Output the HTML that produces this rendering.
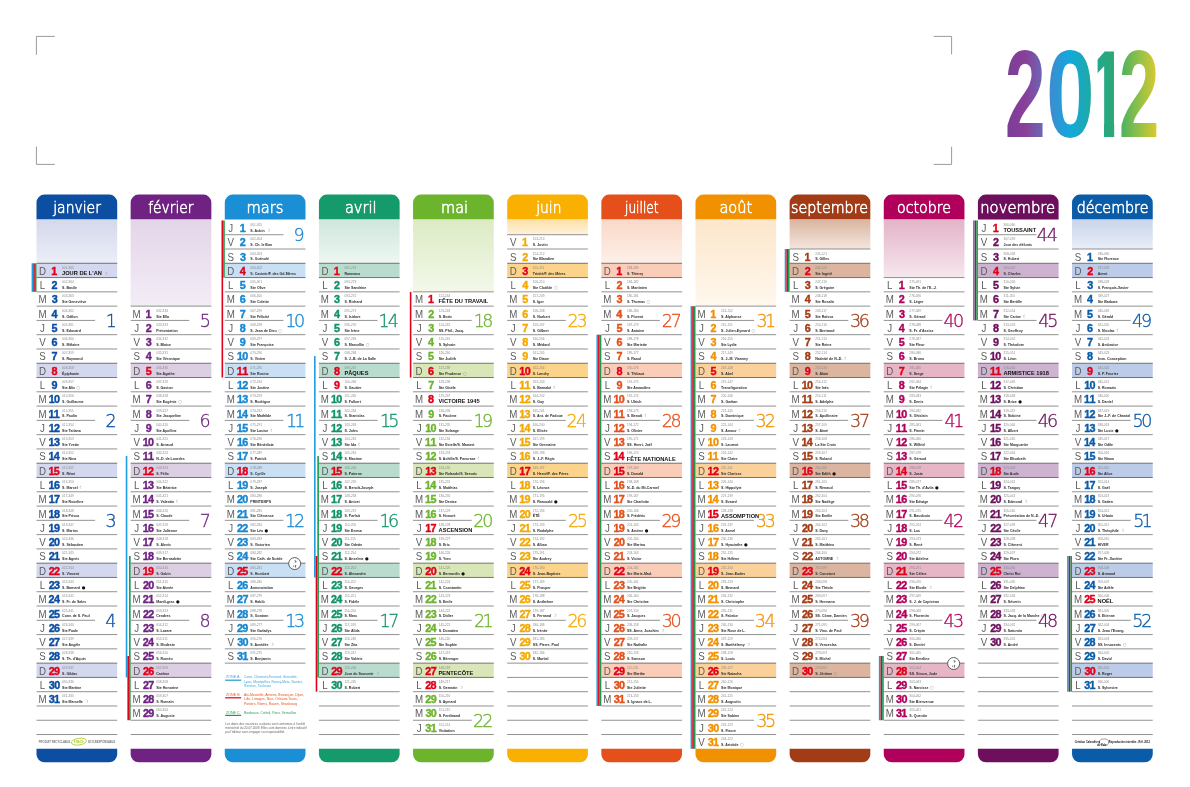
<!DOCTYPE html>
<html lang="fr">
<head>
<meta charset="utf-8">
<title>Calendrier 2012</title>
<style>
html,body{margin:0;padding:0;background:#fff;}
svg{display:block;will-change:transform;}
text{font-family:"Liberation Sans",sans-serif;}
.wd{font-size:11.6px;fill:#5c5c5c;text-anchor:middle;}
.dn{font-size:11.6px;font-weight:bold;stroke-width:.42px;}
.doy{font-size:3.2px;fill:#8c8c8c;}
.st{font-size:3.55px;font-weight:bold;fill:#2e2e2e;}
.bg{font-size:5.7px;font-weight:bold;fill:#111;}
.wk{font-family:"DejaVu Sans Light","DejaVu Sans","Liberation Sans",sans-serif;font-weight:200;font-size:17.5px;stroke-width:.3px;}
.mh{font-family:"DejaVu Sans Light","DejaVu Sans","Liberation Sans",sans-serif;font-weight:200;font-size:16.1px;fill:#fff;stroke:#fff;stroke-width:.6px;}
.mn{font-family:"DejaVu Sans",sans-serif;font-weight:normal;}
.ln{stroke:#6e6e6e;stroke-width:.75;}
.ls{stroke:#5e5e5e;stroke-width:.85;}
.lg{font-size:3.4px;}
</style>
</head>
<body>
<svg width="1190" height="787" viewBox="0 0 1190 787">
<defs>
<linearGradient id="yg" x1="1007" x2="1157" y1="0" y2="0" gradientUnits="userSpaceOnUse"><stop offset="0" stop-color="#7a3e98"/><stop offset=".12" stop-color="#8a3f98"/><stop offset=".233" stop-color="#6c66b4"/><stop offset=".287" stop-color="#3f8bd0"/><stop offset=".42" stop-color="#12a9dc"/><stop offset=".553" stop-color="#1ea9a6"/><stop offset=".607" stop-color="#22a88c"/><stop offset=".713" stop-color="#2ea874"/><stop offset=".76" stop-color="#4bb062"/><stop offset=".873" stop-color="#8dc04a"/><stop offset="1" stop-color="#dcc930"/></linearGradient>
<linearGradient id="g0" x1="0" x2="0" y1="0" y2="1"><stop offset="0" stop-color="#d3d8ec"/><stop offset="1" stop-color="#eceef7"/></linearGradient>
<linearGradient id="g1" x1="0" x2="0" y1="0" y2="1"><stop offset="0" stop-color="#e3d5e8"/><stop offset="1" stop-color="#f3edf6"/></linearGradient>
<linearGradient id="g2" x1="0" x2="0" y1="0" y2="1"><stop offset="0" stop-color="#cfe3f5"/><stop offset="1" stop-color="#eef6fc"/></linearGradient>
<linearGradient id="g3" x1="0" x2="0" y1="0" y2="1"><stop offset="0" stop-color="#cfe7dd"/><stop offset="1" stop-color="#eef7f3"/></linearGradient>
<linearGradient id="g4" x1="0" x2="0" y1="0" y2="1"><stop offset="0" stop-color="#dcebc4"/><stop offset="1" stop-color="#f3f8e9"/></linearGradient>
<linearGradient id="g5" x1="0" x2="0" y1="0" y2="1"><stop offset="0" stop-color="#fde0a8"/><stop offset="1" stop-color="#fef3dc"/></linearGradient>
<linearGradient id="g6" x1="0" x2="0" y1="0" y2="1"><stop offset="0" stop-color="#fad9c8"/><stop offset="1" stop-color="#fdf0e9"/></linearGradient>
<linearGradient id="g7" x1="0" x2="0" y1="0" y2="1"><stop offset="0" stop-color="#fce6cb"/><stop offset="1" stop-color="#fff8ee"/></linearGradient>
<linearGradient id="g8" x1="0" x2="0" y1="0" y2="1"><stop offset="0" stop-color="#dab5a0"/><stop offset="1" stop-color="#f4e6de"/></linearGradient>
<linearGradient id="g9" x1="0" x2="0" y1="0" y2="1"><stop offset="0" stop-color="#e3b4c8"/><stop offset="1" stop-color="#f6e7ee"/></linearGradient>
<linearGradient id="g10" x1="0" x2="0" y1="0" y2="1"><stop offset="0" stop-color="#d6c0d8"/><stop offset="1" stop-color="#f0e8f1"/></linearGradient>
<linearGradient id="g11" x1="0" x2="0" y1="0" y2="1"><stop offset="0" stop-color="#c9d5ec"/><stop offset="1" stop-color="#e9eef8"/></linearGradient>
</defs>
<rect width="1190" height="787" fill="#fff"/>
<g fill="none" stroke="#9a9a9a" stroke-width="1"><path d="M54.8 36.4H36.4V54.8"/><path d="M36.4 146.6V164.4H54.8"/><path d="M933.7 36.4H951.6V54.4"/><path d="M951.6 146.8V164.4H933.7"/></g>
<clipPath id="c1"><rect x="1097.6" y="40" width="16.6" height="83.4"/><rect x="1104" y="40" width="10.2" height="98"/></clipPath>
<g id="year" fill="url(#yg)" style="font-weight:bold"><text x="1004.98" y="137.3" textLength="40.43" lengthAdjust="spacingAndGlyphs" style="font-size:124.64px">2</text><text x="1046.27" y="137.3" textLength="48.18" lengthAdjust="spacingAndGlyphs" style="font-size:124.64px">0</text><text x="1118.89" y="137.3" textLength="40.20" lengthAdjust="spacingAndGlyphs" style="font-size:124.64px">2</text><text clip-path="url(#c1)" x="1087.53" y="137.3" textLength="39.72" lengthAdjust="spacingAndGlyphs" style="font-size:124.64px">1</text></g>
<g id="m1" transform="translate(36.50 0)">
<path d="M0 219.6V202.6a8 8 0 0 1 8 -8H72.7a8 8 0 0 1 8 8V219.6Z" fill="#0b4ea2"/>
<text class="mh" x="16.75" y="212.8" textLength="47.66" lengthAdjust="spacingAndGlyphs">janvier</text>
<rect x="0" y="219.6" width="80.7" height="43.69" fill="url(#g0)"/>
<path d="M0 748.8H80.7V754.3a8 8 0 0 1 -8 8H8a8 8 0 0 1 -8 -8Z" fill="#0b4ea2"/>
<rect x="0" y="263.29" width="80.7" height="14.28" fill="#d4d8ee"/>
<rect x="0" y="363.25" width="80.7" height="14.28" fill="#d4d8ee"/>
<rect x="0" y="463.21" width="80.7" height="14.28" fill="#d4d8ee"/>
<rect x="0" y="563.17" width="80.7" height="14.28" fill="#d4d8ee"/>
<rect x="0" y="663.13" width="80.7" height="14.28" fill="#d4d8ee"/>
<line class="ls" x1="0" x2="80.7" y1="263.29" y2="263.29"/>
<line class="ls" x1="0" x2="80.7" y1="277.57" y2="277.57"/>
<line class="ln" x1="0" x2="80.7" y1="291.85" y2="291.85"/>
<line class="ln" x1="0" x2="80.7" y1="306.13" y2="306.13"/>
<line class="ln" x1="0" x2="58.6" y1="320.41" y2="320.41"/>
<line class="ln" x1="0" x2="80.7" y1="334.69" y2="334.69"/>
<line class="ln" x1="0" x2="80.7" y1="348.97" y2="348.97"/>
<line class="ls" x1="0" x2="80.7" y1="363.25" y2="363.25"/>
<line class="ls" x1="0" x2="80.7" y1="377.53" y2="377.53"/>
<line class="ln" x1="0" x2="80.7" y1="391.81" y2="391.81"/>
<line class="ln" x1="0" x2="80.7" y1="406.09" y2="406.09"/>
<line class="ln" x1="0" x2="58.6" y1="420.37" y2="420.37"/>
<line class="ln" x1="0" x2="80.7" y1="434.65" y2="434.65"/>
<line class="ln" x1="0" x2="80.7" y1="448.93" y2="448.93"/>
<line class="ls" x1="0" x2="80.7" y1="463.21" y2="463.21"/>
<line class="ls" x1="0" x2="80.7" y1="477.49" y2="477.49"/>
<line class="ln" x1="0" x2="80.7" y1="491.77" y2="491.77"/>
<line class="ln" x1="0" x2="80.7" y1="506.05" y2="506.05"/>
<line class="ln" x1="0" x2="58.6" y1="520.33" y2="520.33"/>
<line class="ln" x1="0" x2="80.7" y1="534.61" y2="534.61"/>
<line class="ln" x1="0" x2="80.7" y1="548.89" y2="548.89"/>
<line class="ls" x1="0" x2="80.7" y1="563.17" y2="563.17"/>
<line class="ls" x1="0" x2="80.7" y1="577.45" y2="577.45"/>
<line class="ln" x1="0" x2="80.7" y1="591.73" y2="591.73"/>
<line class="ln" x1="0" x2="80.7" y1="606.01" y2="606.01"/>
<line class="ln" x1="0" x2="58.6" y1="620.29" y2="620.29"/>
<line class="ln" x1="0" x2="80.7" y1="634.57" y2="634.57"/>
<line class="ln" x1="0" x2="80.7" y1="648.85" y2="648.85"/>
<line class="ls" x1="0" x2="80.7" y1="663.13" y2="663.13"/>
<line class="ls" x1="0" x2="80.7" y1="677.41" y2="677.41"/>
<line class="ln" x1="0" x2="80.7" y1="691.69" y2="691.69"/>
<line class="ln" x1="0" x2="80.7" y1="705.97" y2="705.97"/>
<line class="ln" x1="0" x2="80.7" y1="720.25" y2="720.25"/>
<line class="ln" x1="0" x2="80.7" y1="734.53" y2="734.53"/>
<text class="wd" transform="translate(6 274.79) scale(.84 1)">D</text><text class="dn" transform="translate(18.05 274.79) scale(0.93 1)" x="-3.43" fill="#e2001a" stroke="#e2001a">1</text><text class="doy" x="25.6" y="268.79">001-365</text><text class="bg" x="25.5" y="274.89">JOUR DE L'AN<tspan class="mn" dx="1.6" fill="#8a8a8a" font-size="4.4">☽</tspan></text>
<text class="wd" transform="translate(6 289.07) scale(.84 1)">L</text><text class="dn" transform="translate(18.05 289.07) scale(0.93 1)" x="-3.19" fill="#0b4ea2" stroke="#0b4ea2">2</text><text class="doy" x="25.6" y="283.07">002-364</text><text class="st" x="25.6" y="288.97">S. Basile</text>
<text class="wd" transform="translate(6 303.35) scale(.84 1)">M</text><text class="dn" transform="translate(18.05 303.35) scale(0.93 1)" x="-3.15" fill="#0b4ea2" stroke="#0b4ea2">3</text><text class="doy" x="25.6" y="297.35">003-363</text><text class="st" x="25.6" y="303.25">Ste Geneviève</text>
<text class="wd" transform="translate(6 317.63) scale(.84 1)">M</text><text class="dn" transform="translate(18.05 317.63) scale(0.93 1)" x="-3.28" fill="#0b4ea2" stroke="#0b4ea2">4</text><text class="doy" x="25.6" y="311.63">004-362</text><text class="st" x="25.6" y="317.53">S. Odilon</text>
<text class="wk" x="69.31" y="326.81" fill="#0b4ea2" stroke="#0b4ea2">1</text>
<text class="wd" transform="translate(6 331.91) scale(.84 1)">J</text><text class="dn" transform="translate(18.05 331.91) scale(0.93 1)" x="-3.24" fill="#0b4ea2" stroke="#0b4ea2">5</text><text class="doy" x="25.6" y="325.91">005-361</text><text class="st" x="25.6" y="331.81">S. Edouard</text>
<text class="wd" transform="translate(6 346.19) scale(.84 1)">V</text><text class="dn" transform="translate(18.05 346.19) scale(0.93 1)" x="-3.23" fill="#0b4ea2" stroke="#0b4ea2">6</text><text class="doy" x="25.6" y="340.19">006-360</text><text class="st" x="25.6" y="346.09">S. Mélaine</text>
<text class="wd" transform="translate(6 360.47) scale(.84 1)">S</text><text class="dn" transform="translate(18.05 360.47) scale(0.93 1)" x="-3.22" fill="#0b4ea2" stroke="#0b4ea2">7</text><text class="doy" x="25.6" y="354.47">007-359</text><text class="st" x="25.6" y="360.37">S. Raymond</text>
<text class="wd" transform="translate(6 374.75) scale(.84 1)">D</text><text class="dn" transform="translate(18.05 374.75) scale(0.93 1)" x="-3.23" fill="#e2001a" stroke="#e2001a">8</text><text class="doy" x="25.6" y="368.75">008-358</text><text class="st" x="25.6" y="374.65">Épiphanie</text>
<text class="wd" transform="translate(6 389.03) scale(.84 1)">L</text><text class="dn" transform="translate(18.05 389.03) scale(0.93 1)" x="-3.21" fill="#0b4ea2" stroke="#0b4ea2">9</text><text class="doy" x="25.6" y="383.03">009-357</text><text class="st" x="25.6" y="388.93">Ste Alix<tspan class="mn" dx="1.6" fill="#8a8a8a" font-size="4.2">○</tspan></text>
<text class="wd" transform="translate(6 403.31) scale(.84 1)">M</text><text class="dn" transform="translate(17.9 403.31) scale(0.93 1)" x="-6.20 -0.50" fill="#0b4ea2" stroke="#0b4ea2">10</text><text class="doy" x="25.6" y="397.31">010-356</text><text class="st" x="25.6" y="403.21">S. Guillaume</text>
<text class="wd" transform="translate(6 417.59) scale(.84 1)">M</text><text class="dn" transform="translate(17.9 417.59) scale(0.93 1)" x="-6.28 -0.58" fill="#0b4ea2" stroke="#0b4ea2">11</text><text class="doy" x="25.6" y="411.59">011-355</text><text class="st" x="25.6" y="417.49">S. Paulin</text>
<text class="wk" x="69.02" y="426.77" fill="#0b4ea2" stroke="#0b4ea2">2</text>
<text class="wd" transform="translate(6 431.87) scale(.84 1)">J</text><text class="dn" transform="translate(17.9 431.87) scale(0.93 1)" x="-6.21 -0.51" fill="#0b4ea2" stroke="#0b4ea2">12</text><text class="doy" x="25.6" y="425.87">012-354</text><text class="st" x="25.6" y="431.77">Ste Tatiana</text>
<text class="wd" transform="translate(6 446.15) scale(.84 1)">V</text><text class="dn" transform="translate(17.9 446.15) scale(0.93 1)" x="-6.23 -0.53" fill="#0b4ea2" stroke="#0b4ea2">13</text><text class="doy" x="25.6" y="440.15">013-353</text><text class="st" x="25.6" y="446.05">Ste Yvette</text>
<text class="wd" transform="translate(6 460.43) scale(.84 1)">S</text><text class="dn" transform="translate(17.9 460.43) scale(0.93 1)" x="-6.41 -0.71" fill="#0b4ea2" stroke="#0b4ea2">14</text><text class="doy" x="25.6" y="454.43">014-352</text><text class="st" x="25.6" y="460.33">Ste Nina</text>
<text class="wd" transform="translate(6 474.71) scale(.84 1)">D</text><text class="dn" transform="translate(17.9 474.71) scale(0.93 1)" x="-6.28 -0.58" fill="#e2001a" stroke="#e2001a">15</text><text class="doy" x="25.6" y="468.71">015-351</text><text class="st" x="25.6" y="474.61">S. Rémi</text>
<text class="wd" transform="translate(6 488.99) scale(.84 1)">L</text><text class="dn" transform="translate(17.9 488.99) scale(0.93 1)" x="-6.23 -0.53" fill="#0b4ea2" stroke="#0b4ea2">16</text><text class="doy" x="25.6" y="482.99">016-350</text><text class="st" x="25.6" y="488.89">S. Marcel<tspan class="mn" dx="1.6" fill="#8a8a8a" font-size="4.4">☾</tspan></text>
<text class="wd" transform="translate(6 503.27) scale(.84 1)">M</text><text class="dn" transform="translate(17.9 503.27) scale(0.93 1)" x="-6.19 -0.49" fill="#0b4ea2" stroke="#0b4ea2">17</text><text class="doy" x="25.6" y="497.27">017-349</text><text class="st" x="25.6" y="503.17">Ste Roseline</text>
<text class="wd" transform="translate(6 517.55) scale(.84 1)">M</text><text class="dn" transform="translate(17.9 517.55) scale(0.93 1)" x="-6.26 -0.56" fill="#0b4ea2" stroke="#0b4ea2">18</text><text class="doy" x="25.6" y="511.55">018-348</text><text class="st" x="25.6" y="517.45">Ste Prisca</text>
<text class="wk" x="69.10" y="526.73" fill="#0b4ea2" stroke="#0b4ea2">3</text>
<text class="wd" transform="translate(6 531.83) scale(.84 1)">J</text><text class="dn" transform="translate(17.9 531.83) scale(0.93 1)" x="-6.23 -0.53" fill="#0b4ea2" stroke="#0b4ea2">19</text><text class="doy" x="25.6" y="525.83">019-347</text><text class="st" x="25.6" y="531.73">S. Marius</text>
<text class="wd" transform="translate(6 546.11) scale(.84 1)">V</text><text class="dn" transform="translate(17.9 546.11) scale(0.93 1)" x="-6.04 -0.34" fill="#0b4ea2" stroke="#0b4ea2">20</text><text class="doy" x="25.6" y="540.11">020-346</text><text class="st" x="25.6" y="546.01">S. Sébastien</text>
<text class="wd" transform="translate(6 560.39) scale(.84 1)">S</text><text class="dn" transform="translate(17.9 560.39) scale(0.93 1)" x="-6.12 -0.41" fill="#0b4ea2" stroke="#0b4ea2">21</text><text class="doy" x="25.6" y="554.39">021-345</text><text class="st" x="25.6" y="560.29">Ste Agnès</text>
<text class="wd" transform="translate(6 574.67) scale(.84 1)">D</text><text class="dn" transform="translate(17.9 574.67) scale(0.93 1)" x="-6.05 -0.34" fill="#e2001a" stroke="#e2001a">22</text><text class="doy" x="25.6" y="568.67">022-344</text><text class="st" x="25.6" y="574.57">S. Vincent</text>
<text class="wd" transform="translate(6 588.95) scale(.84 1)">L</text><text class="dn" transform="translate(17.9 588.95) scale(0.93 1)" x="-6.07 -0.37" fill="#0b4ea2" stroke="#0b4ea2">23</text><text class="doy" x="25.6" y="582.95">023-343</text><text class="st" x="25.6" y="588.85">S. Barnard<tspan class="mn" dx="1.6" fill="#111" font-size="4.2">●</tspan></text>
<text class="wd" transform="translate(6 603.23) scale(.84 1)">M</text><text class="dn" transform="translate(17.9 603.23) scale(0.93 1)" x="-6.25 -0.54" fill="#0b4ea2" stroke="#0b4ea2">24</text><text class="doy" x="25.6" y="597.23">024-342</text><text class="st" x="25.6" y="603.13">S. Fr. de Sales</text>
<text class="wd" transform="translate(6 617.51) scale(.84 1)">M</text><text class="dn" transform="translate(17.9 617.51) scale(0.93 1)" x="-6.12 -0.41" fill="#0b4ea2" stroke="#0b4ea2">25</text><text class="doy" x="25.6" y="611.51">025-341</text><text class="st" x="25.6" y="617.41">Conv. de S. Paul</text>
<text class="wk" x="68.67" y="626.69" fill="#0b4ea2" stroke="#0b4ea2">4</text>
<text class="wd" transform="translate(6 631.79) scale(.84 1)">J</text><text class="dn" transform="translate(17.9 631.79) scale(0.93 1)" x="-6.07 -0.37" fill="#0b4ea2" stroke="#0b4ea2">26</text><text class="doy" x="25.6" y="625.79">026-340</text><text class="st" x="25.6" y="631.69">Ste Paule</text>
<text class="wd" transform="translate(6 646.07) scale(.84 1)">V</text><text class="dn" transform="translate(17.9 646.07) scale(0.93 1)" x="-6.02 -0.32" fill="#0b4ea2" stroke="#0b4ea2">27</text><text class="doy" x="25.6" y="640.07">027-339</text><text class="st" x="25.6" y="645.97">Ste Angèle</text>
<text class="wd" transform="translate(6 660.35) scale(.84 1)">S</text><text class="dn" transform="translate(17.9 660.35) scale(0.93 1)" x="-6.10 -0.40" fill="#0b4ea2" stroke="#0b4ea2">28</text><text class="doy" x="25.6" y="654.35">028-338</text><text class="st" x="25.6" y="660.25">S. Th. d'Aquin</text>
<text class="wd" transform="translate(6 674.63) scale(.84 1)">D</text><text class="dn" transform="translate(17.9 674.63) scale(0.93 1)" x="-6.06 -0.36" fill="#e2001a" stroke="#e2001a">29</text><text class="doy" x="25.6" y="668.63">029-337</text><text class="st" x="25.6" y="674.53">S. Gildas</text>
<text class="wd" transform="translate(6 688.91) scale(.84 1)">L</text><text class="dn" transform="translate(17.9 688.91) scale(0.93 1)" x="-5.97 -0.27" fill="#0b4ea2" stroke="#0b4ea2">30</text><text class="doy" x="25.6" y="682.91">030-336</text><text class="st" x="25.6" y="688.81">Ste Martine</text>
<text class="wd" transform="translate(6 703.19) scale(.84 1)">M</text><text class="dn" transform="translate(17.9 703.19) scale(0.93 1)" x="-6.05 -0.35" fill="#0b4ea2" stroke="#0b4ea2">31</text><text class="doy" x="25.6" y="697.19">031-335</text><text class="st" x="25.6" y="703.09">Ste Marcelle<tspan class="mn" dx="1.6" fill="#8a8a8a" font-size="4.4">☽</tspan></text>
<rect x="-4.9" y="263.29" width="1.6" height="28.56" fill="#1e9ee0"/>
<rect x="-3.25" y="263.29" width="1.6" height="28.56" fill="#e2001a"/>
<rect x="-1.6" y="263.29" width="1.6" height="28.56" fill="#1a9a4c"/>
<text x="2.3" y="742.6" style="font-size:2.9px;font-weight:bold;fill:#777" textLength="31.5" lengthAdjust="spacingAndGlyphs">PRODUIT RECYCLABLE</text><ellipse cx="42.4" cy="741.7" rx="7.6" ry="3.3" fill="none" stroke="#b5cf3a" stroke-width=".9" transform="rotate(-8 42.4 741.7)"/><text x="37.6" y="743" style="font-size:3.6px;font-weight:bold;fill:#a6c72f" textLength="9.6" lengthAdjust="spacingAndGlyphs">ISO</text><text x="51.7" y="742.6" style="font-size:2.9px;font-weight:bold;fill:#777" textLength="27" lengthAdjust="spacingAndGlyphs">ECO-RESPONSABLE</text>
</g>
<g id="m2" transform="translate(130.64 0)">
<path d="M0 219.6V202.6a8 8 0 0 1 8 -8H72.7a8 8 0 0 1 8 8V219.6Z" fill="#6f2282"/>
<text class="mh" x="17.53" y="212.8" textLength="45.34" lengthAdjust="spacingAndGlyphs">février</text>
<rect x="0" y="219.6" width="80.7" height="86.53" fill="url(#g1)"/>
<path d="M0 748.8H80.7V754.3a8 8 0 0 1 -8 8H8a8 8 0 0 1 -8 -8Z" fill="#6f2282"/>
<rect x="0" y="363.25" width="80.7" height="14.28" fill="#dccfe4"/>
<rect x="0" y="463.21" width="80.7" height="14.28" fill="#dccfe4"/>
<rect x="0" y="563.17" width="80.7" height="14.28" fill="#dccfe4"/>
<rect x="0" y="663.13" width="80.7" height="14.28" fill="#dccfe4"/>
<line class="ln" x1="0" x2="80.7" y1="306.13" y2="306.13"/>
<line class="ln" x1="0" x2="58.6" y1="320.41" y2="320.41"/>
<line class="ln" x1="0" x2="80.7" y1="334.69" y2="334.69"/>
<line class="ln" x1="0" x2="80.7" y1="348.97" y2="348.97"/>
<line class="ls" x1="0" x2="80.7" y1="363.25" y2="363.25"/>
<line class="ls" x1="0" x2="80.7" y1="377.53" y2="377.53"/>
<line class="ln" x1="0" x2="80.7" y1="391.81" y2="391.81"/>
<line class="ln" x1="0" x2="80.7" y1="406.09" y2="406.09"/>
<line class="ln" x1="0" x2="58.6" y1="420.37" y2="420.37"/>
<line class="ln" x1="0" x2="80.7" y1="434.65" y2="434.65"/>
<line class="ln" x1="0" x2="80.7" y1="448.93" y2="448.93"/>
<line class="ls" x1="0" x2="80.7" y1="463.21" y2="463.21"/>
<line class="ls" x1="0" x2="80.7" y1="477.49" y2="477.49"/>
<line class="ln" x1="0" x2="80.7" y1="491.77" y2="491.77"/>
<line class="ln" x1="0" x2="80.7" y1="506.05" y2="506.05"/>
<line class="ln" x1="0" x2="58.6" y1="520.33" y2="520.33"/>
<line class="ln" x1="0" x2="80.7" y1="534.61" y2="534.61"/>
<line class="ln" x1="0" x2="80.7" y1="548.89" y2="548.89"/>
<line class="ls" x1="0" x2="80.7" y1="563.17" y2="563.17"/>
<line class="ls" x1="0" x2="80.7" y1="577.45" y2="577.45"/>
<line class="ln" x1="0" x2="80.7" y1="591.73" y2="591.73"/>
<line class="ln" x1="0" x2="80.7" y1="606.01" y2="606.01"/>
<line class="ln" x1="0" x2="58.6" y1="620.29" y2="620.29"/>
<line class="ln" x1="0" x2="80.7" y1="634.57" y2="634.57"/>
<line class="ln" x1="0" x2="80.7" y1="648.85" y2="648.85"/>
<line class="ls" x1="0" x2="80.7" y1="663.13" y2="663.13"/>
<line class="ls" x1="0" x2="80.7" y1="677.41" y2="677.41"/>
<line class="ln" x1="0" x2="80.7" y1="691.69" y2="691.69"/>
<line class="ln" x1="0" x2="80.7" y1="705.97" y2="705.97"/>
<line class="ln" x1="0" x2="80.7" y1="720.25" y2="720.25"/>
<line class="ln" x1="0" x2="80.7" y1="734.53" y2="734.53"/>
<text class="wd" transform="translate(6 317.63) scale(.84 1)">M</text><text class="dn" transform="translate(18.05 317.63) scale(0.93 1)" x="-3.43" fill="#6f2282" stroke="#6f2282">1</text><text class="doy" x="25.6" y="311.63">032-334</text><text class="st" x="25.6" y="317.53">Ste Ella</text>
<text class="wk" x="69.21" y="326.81" fill="#6f2282" stroke="#6f2282">5</text>
<text class="wd" transform="translate(6 331.91) scale(.84 1)">J</text><text class="dn" transform="translate(18.05 331.91) scale(0.93 1)" x="-3.19" fill="#6f2282" stroke="#6f2282">2</text><text class="doy" x="25.6" y="325.91">033-333</text><text class="st" x="25.6" y="331.81">Présentation</text>
<text class="wd" transform="translate(6 346.19) scale(.84 1)">V</text><text class="dn" transform="translate(18.05 346.19) scale(0.93 1)" x="-3.15" fill="#6f2282" stroke="#6f2282">3</text><text class="doy" x="25.6" y="340.19">034-332</text><text class="st" x="25.6" y="346.09">S. Blaise</text>
<text class="wd" transform="translate(6 360.47) scale(.84 1)">S</text><text class="dn" transform="translate(18.05 360.47) scale(0.93 1)" x="-3.28" fill="#6f2282" stroke="#6f2282">4</text><text class="doy" x="25.6" y="354.47">035-331</text><text class="st" x="25.6" y="360.37">Ste Véronique</text>
<text class="wd" transform="translate(6 374.75) scale(.84 1)">D</text><text class="dn" transform="translate(18.05 374.75) scale(0.93 1)" x="-3.24" fill="#e2001a" stroke="#e2001a">5</text><text class="doy" x="25.6" y="368.75">036-330</text><text class="st" x="25.6" y="374.65">Ste Agathe</text>
<text class="wd" transform="translate(6 389.03) scale(.84 1)">L</text><text class="dn" transform="translate(18.05 389.03) scale(0.93 1)" x="-3.23" fill="#6f2282" stroke="#6f2282">6</text><text class="doy" x="25.6" y="383.03">037-329</text><text class="st" x="25.6" y="388.93">S. Gaston</text>
<text class="wd" transform="translate(6 403.31) scale(.84 1)">M</text><text class="dn" transform="translate(18.05 403.31) scale(0.93 1)" x="-3.22" fill="#6f2282" stroke="#6f2282">7</text><text class="doy" x="25.6" y="397.31">038-328</text><text class="st" x="25.6" y="403.21">Ste Eugénie<tspan class="mn" dx="1.6" fill="#8a8a8a" font-size="4.2">○</tspan></text>
<text class="wd" transform="translate(6 417.59) scale(.84 1)">M</text><text class="dn" transform="translate(18.05 417.59) scale(0.93 1)" x="-3.23" fill="#6f2282" stroke="#6f2282">8</text><text class="doy" x="25.6" y="411.59">039-327</text><text class="st" x="25.6" y="417.49">Ste Jacqueline</text>
<text class="wk" x="68.79" y="426.77" fill="#6f2282" stroke="#6f2282">6</text>
<text class="wd" transform="translate(6 431.87) scale(.84 1)">J</text><text class="dn" transform="translate(18.05 431.87) scale(0.93 1)" x="-3.21" fill="#6f2282" stroke="#6f2282">9</text><text class="doy" x="25.6" y="425.87">040-326</text><text class="st" x="25.6" y="431.77">Ste Apolline</text>
<text class="wd" transform="translate(6 446.15) scale(.84 1)">V</text><text class="dn" transform="translate(17.9 446.15) scale(0.93 1)" x="-6.20 -0.50" fill="#6f2282" stroke="#6f2282">10</text><text class="doy" x="25.6" y="440.15">041-325</text><text class="st" x="25.6" y="446.05">S. Arnaud</text>
<text class="wd" transform="translate(6 460.43) scale(.84 1)">S</text><text class="dn" transform="translate(17.9 460.43) scale(0.93 1)" x="-6.28 -0.58" fill="#6f2282" stroke="#6f2282">11</text><text class="doy" x="25.6" y="454.43">042-324</text><text class="st" x="25.6" y="460.33">N.-D. de Lourdes</text>
<text class="wd" transform="translate(6 474.71) scale(.84 1)">D</text><text class="dn" transform="translate(17.9 474.71) scale(0.93 1)" x="-6.21 -0.51" fill="#e2001a" stroke="#e2001a">12</text><text class="doy" x="25.6" y="468.71">043-323</text><text class="st" x="25.6" y="474.61">S. Félix</text>
<text class="wd" transform="translate(6 488.99) scale(.84 1)">L</text><text class="dn" transform="translate(17.9 488.99) scale(0.93 1)" x="-6.23 -0.53" fill="#6f2282" stroke="#6f2282">13</text><text class="doy" x="25.6" y="482.99">044-322</text><text class="st" x="25.6" y="488.89">Ste Béatrice</text>
<text class="wd" transform="translate(6 503.27) scale(.84 1)">M</text><text class="dn" transform="translate(17.9 503.27) scale(0.93 1)" x="-6.41 -0.71" fill="#6f2282" stroke="#6f2282">14</text><text class="doy" x="25.6" y="497.27">045-321</text><text class="st" x="25.6" y="503.17">S. Valentin<tspan class="mn" dx="1.6" fill="#8a8a8a" font-size="4.4">☾</tspan></text>
<text class="wd" transform="translate(6 517.55) scale(.84 1)">M</text><text class="dn" transform="translate(17.9 517.55) scale(0.93 1)" x="-6.28 -0.58" fill="#6f2282" stroke="#6f2282">15</text><text class="doy" x="25.6" y="511.55">046-320</text><text class="st" x="25.6" y="517.45">S. Claude</text>
<text class="wk" x="69.21" y="526.73" fill="#6f2282" stroke="#6f2282">7</text>
<text class="wd" transform="translate(6 531.83) scale(.84 1)">J</text><text class="dn" transform="translate(17.9 531.83) scale(0.93 1)" x="-6.23 -0.53" fill="#6f2282" stroke="#6f2282">16</text><text class="doy" x="25.6" y="525.83">047-319</text><text class="st" x="25.6" y="531.73">Ste Julienne</text>
<text class="wd" transform="translate(6 546.11) scale(.84 1)">V</text><text class="dn" transform="translate(17.9 546.11) scale(0.93 1)" x="-6.19 -0.49" fill="#6f2282" stroke="#6f2282">17</text><text class="doy" x="25.6" y="540.11">048-318</text><text class="st" x="25.6" y="546.01">S. Alexis</text>
<text class="wd" transform="translate(6 560.39) scale(.84 1)">S</text><text class="dn" transform="translate(17.9 560.39) scale(0.93 1)" x="-6.26 -0.56" fill="#6f2282" stroke="#6f2282">18</text><text class="doy" x="25.6" y="554.39">049-317</text><text class="st" x="25.6" y="560.29">Ste Bernadette</text>
<text class="wd" transform="translate(6 574.67) scale(.84 1)">D</text><text class="dn" transform="translate(17.9 574.67) scale(0.93 1)" x="-6.23 -0.53" fill="#e2001a" stroke="#e2001a">19</text><text class="doy" x="25.6" y="568.67">050-316</text><text class="st" x="25.6" y="574.57">S. Gabin</text>
<text class="wd" transform="translate(6 588.95) scale(.84 1)">L</text><text class="dn" transform="translate(17.9 588.95) scale(0.93 1)" x="-6.04 -0.34" fill="#6f2282" stroke="#6f2282">20</text><text class="doy" x="25.6" y="582.95">051-315</text><text class="st" x="25.6" y="588.85">Ste Aimée</text>
<text class="wd" transform="translate(6 603.23) scale(.84 1)">M</text><text class="dn" transform="translate(17.9 603.23) scale(0.93 1)" x="-6.12 -0.41" fill="#6f2282" stroke="#6f2282">21</text><text class="doy" x="25.6" y="597.23">052-314</text><text class="st" x="25.6" y="603.13">Mardi-gras<tspan class="mn" dx="1.6" fill="#111" font-size="4.2">●</tspan></text>
<text class="wd" transform="translate(6 617.51) scale(.84 1)">M</text><text class="dn" transform="translate(17.9 617.51) scale(0.93 1)" x="-6.05 -0.34" fill="#6f2282" stroke="#6f2282">22</text><text class="doy" x="25.6" y="611.51">053-313</text><text class="st" x="25.6" y="617.41">Cendres</text>
<text class="wk" x="68.92" y="626.69" fill="#6f2282" stroke="#6f2282">8</text>
<text class="wd" transform="translate(6 631.79) scale(.84 1)">J</text><text class="dn" transform="translate(17.9 631.79) scale(0.93 1)" x="-6.07 -0.37" fill="#6f2282" stroke="#6f2282">23</text><text class="doy" x="25.6" y="625.79">054-312</text><text class="st" x="25.6" y="631.69">S. Lazare</text>
<text class="wd" transform="translate(6 646.07) scale(.84 1)">V</text><text class="dn" transform="translate(17.9 646.07) scale(0.93 1)" x="-6.25 -0.54" fill="#6f2282" stroke="#6f2282">24</text><text class="doy" x="25.6" y="640.07">055-311</text><text class="st" x="25.6" y="645.97">S. Modeste</text>
<text class="wd" transform="translate(6 660.35) scale(.84 1)">S</text><text class="dn" transform="translate(17.9 660.35) scale(0.93 1)" x="-6.12 -0.41" fill="#6f2282" stroke="#6f2282">25</text><text class="doy" x="25.6" y="654.35">056-310</text><text class="st" x="25.6" y="660.25">S. Roméo</text>
<text class="wd" transform="translate(6 674.63) scale(.84 1)">D</text><text class="dn" transform="translate(17.9 674.63) scale(0.93 1)" x="-6.07 -0.37" fill="#e2001a" stroke="#e2001a">26</text><text class="doy" x="25.6" y="668.63">057-309</text><text class="st" x="25.6" y="674.53">Carême</text>
<text class="wd" transform="translate(6 688.91) scale(.84 1)">L</text><text class="dn" transform="translate(17.9 688.91) scale(0.93 1)" x="-6.02 -0.32" fill="#6f2282" stroke="#6f2282">27</text><text class="doy" x="25.6" y="682.91">058-308</text><text class="st" x="25.6" y="688.81">Ste Honorine</text>
<text class="wd" transform="translate(6 703.19) scale(.84 1)">M</text><text class="dn" transform="translate(17.9 703.19) scale(0.93 1)" x="-6.10 -0.40" fill="#6f2282" stroke="#6f2282">28</text><text class="doy" x="25.6" y="697.19">059-307</text><text class="st" x="25.6" y="703.09">S. Romain</text>
<text class="wd" transform="translate(6 717.47) scale(.84 1)">M</text><text class="dn" transform="translate(17.9 717.47) scale(0.93 1)" x="-6.06 -0.36" fill="#6f2282" stroke="#6f2282">29</text><text class="doy" x="25.6" y="711.47">060-306</text><text class="st" x="25.6" y="717.37">S. Auguste</text>
<rect x="-4.9" y="456.07" width="1.6" height="221.34" fill="#1e9ee0"/>
<rect x="-1.6" y="556.03" width="1.6" height="164.22" fill="#1a9a4c"/>
<rect x="-3.25" y="655.99" width="1.6" height="64.26" fill="#e2001a"/>
</g>
<g id="m3" transform="translate(224.78 0)">
<path d="M0 219.6V202.6a8 8 0 0 1 8 -8H72.7a8 8 0 0 1 8 8V219.6Z" fill="#1b8fd6"/>
<text class="mh" x="21.66" y="212.8" textLength="36.91" lengthAdjust="spacingAndGlyphs">mars</text>
<path d="M0 748.8H80.7V754.3a8 8 0 0 1 -8 8H8a8 8 0 0 1 -8 -8Z" fill="#1b8fd6"/>
<rect x="0" y="263.29" width="80.7" height="14.28" fill="#c9dff3"/>
<rect x="0" y="363.25" width="80.7" height="14.28" fill="#c9dff3"/>
<rect x="0" y="463.21" width="80.7" height="14.28" fill="#c9dff3"/>
<rect x="0" y="563.17" width="80.7" height="14.28" fill="#c9dff3"/>
<line class="ln" x1="0" x2="58.6" y1="234.73" y2="234.73"/>
<line class="ln" x1="0" x2="80.7" y1="249.01" y2="249.01"/>
<line class="ls" x1="0" x2="80.7" y1="263.29" y2="263.29"/>
<line class="ls" x1="0" x2="80.7" y1="277.57" y2="277.57"/>
<line class="ln" x1="0" x2="80.7" y1="291.85" y2="291.85"/>
<line class="ln" x1="0" x2="80.7" y1="306.13" y2="306.13"/>
<line class="ln" x1="0" x2="58.6" y1="320.41" y2="320.41"/>
<line class="ln" x1="0" x2="80.7" y1="334.69" y2="334.69"/>
<line class="ln" x1="0" x2="80.7" y1="348.97" y2="348.97"/>
<line class="ls" x1="0" x2="80.7" y1="363.25" y2="363.25"/>
<line class="ls" x1="0" x2="80.7" y1="377.53" y2="377.53"/>
<line class="ln" x1="0" x2="80.7" y1="391.81" y2="391.81"/>
<line class="ln" x1="0" x2="80.7" y1="406.09" y2="406.09"/>
<line class="ln" x1="0" x2="58.6" y1="420.37" y2="420.37"/>
<line class="ln" x1="0" x2="80.7" y1="434.65" y2="434.65"/>
<line class="ln" x1="0" x2="80.7" y1="448.93" y2="448.93"/>
<line class="ls" x1="0" x2="80.7" y1="463.21" y2="463.21"/>
<line class="ls" x1="0" x2="80.7" y1="477.49" y2="477.49"/>
<line class="ln" x1="0" x2="80.7" y1="491.77" y2="491.77"/>
<line class="ln" x1="0" x2="80.7" y1="506.05" y2="506.05"/>
<line class="ln" x1="0" x2="58.6" y1="520.33" y2="520.33"/>
<line class="ln" x1="0" x2="80.7" y1="534.61" y2="534.61"/>
<line class="ln" x1="0" x2="80.7" y1="548.89" y2="548.89"/>
<line class="ls" x1="0" x2="80.7" y1="563.17" y2="563.17"/>
<line class="ls" x1="0" x2="80.7" y1="577.45" y2="577.45"/>
<line class="ln" x1="0" x2="80.7" y1="591.73" y2="591.73"/>
<line class="ln" x1="0" x2="80.7" y1="606.01" y2="606.01"/>
<line class="ln" x1="0" x2="58.6" y1="620.29" y2="620.29"/>
<line class="ln" x1="0" x2="80.7" y1="634.57" y2="634.57"/>
<line class="ln" x1="0" x2="80.7" y1="648.85" y2="648.85"/>
<line class="ln" x1="0" x2="80.7" y1="663.13" y2="663.13"/>
<text class="wd" transform="translate(6 231.95) scale(.84 1)">J</text><text class="dn" transform="translate(18.05 231.95) scale(0.93 1)" x="-3.43" fill="#1787d2" stroke="#1787d2">1</text><text class="doy" x="25.6" y="225.95">061-305</text><text class="st" x="25.6" y="231.85">S. Aubin<tspan class="mn" dx="1.6" fill="#8a8a8a" font-size="4.4">☽</tspan></text>
<text class="wk" x="68.79" y="241.13" fill="#1787d2" stroke="#1787d2">9</text>
<text class="wd" transform="translate(6 246.23) scale(.84 1)">V</text><text class="dn" transform="translate(18.05 246.23) scale(0.93 1)" x="-3.19" fill="#1787d2" stroke="#1787d2">2</text><text class="doy" x="25.6" y="240.23">062-304</text><text class="st" x="25.6" y="246.13">S. Ch. le Bon</text>
<text class="wd" transform="translate(6 260.51) scale(.84 1)">S</text><text class="dn" transform="translate(18.05 260.51) scale(0.93 1)" x="-3.15" fill="#1787d2" stroke="#1787d2">3</text><text class="doy" x="25.6" y="254.51">063-303</text><text class="st" x="25.6" y="260.41">S. Guénolé</text>
<text class="wd" transform="translate(6 274.79) scale(.84 1)">D</text><text class="dn" transform="translate(18.05 274.79) scale(0.93 1)" x="-3.28" fill="#e2001a" stroke="#e2001a">4</text><text class="doy" x="25.6" y="268.79">064-302</text><text class="st" x="25.6" y="274.69">S. Casimir/F. des Gd-Mères</text>
<text class="wd" transform="translate(6 289.07) scale(.84 1)">L</text><text class="dn" transform="translate(18.05 289.07) scale(0.93 1)" x="-3.24" fill="#1787d2" stroke="#1787d2">5</text><text class="doy" x="25.6" y="283.07">065-301</text><text class="st" x="25.6" y="288.97">Ste Olive</text>
<text class="wd" transform="translate(6 303.35) scale(.84 1)">M</text><text class="dn" transform="translate(18.05 303.35) scale(0.93 1)" x="-3.23" fill="#1787d2" stroke="#1787d2">6</text><text class="doy" x="25.6" y="297.35">066-300</text><text class="st" x="25.6" y="303.25">Ste Colette</text>
<text class="wd" transform="translate(6 317.63) scale(.84 1)">M</text><text class="dn" transform="translate(18.05 317.63) scale(0.93 1)" x="-3.22" fill="#1787d2" stroke="#1787d2">7</text><text class="doy" x="25.6" y="311.63">067-299</text><text class="st" x="25.6" y="317.53">Ste Félicité</text>
<text class="wk" x="60.51 69.14" y="326.81" fill="#1787d2" stroke="#1787d2">10</text>
<text class="wd" transform="translate(6 331.91) scale(.84 1)">J</text><text class="dn" transform="translate(18.05 331.91) scale(0.93 1)" x="-3.23" fill="#1787d2" stroke="#1787d2">8</text><text class="doy" x="25.6" y="325.91">068-298</text><text class="st" x="25.6" y="331.81">S. Jean de Dieu<tspan class="mn" dx="1.6" fill="#8a8a8a" font-size="4.2">○</tspan></text>
<text class="wd" transform="translate(6 346.19) scale(.84 1)">V</text><text class="dn" transform="translate(18.05 346.19) scale(0.93 1)" x="-3.21" fill="#1787d2" stroke="#1787d2">9</text><text class="doy" x="25.6" y="340.19">069-297</text><text class="st" x="25.6" y="346.09">Ste Françoise</text>
<text class="wd" transform="translate(6 360.47) scale(.84 1)">S</text><text class="dn" transform="translate(17.9 360.47) scale(0.93 1)" x="-6.20 -0.50" fill="#1787d2" stroke="#1787d2">10</text><text class="doy" x="25.6" y="354.47">070-296</text><text class="st" x="25.6" y="360.37">S. Vivien</text>
<text class="wd" transform="translate(6 374.75) scale(.84 1)">D</text><text class="dn" transform="translate(17.9 374.75) scale(0.93 1)" x="-6.28 -0.58" fill="#e2001a" stroke="#e2001a">11</text><text class="doy" x="25.6" y="368.75">071-295</text><text class="st" x="25.6" y="374.65">Ste Rosine</text>
<text class="wd" transform="translate(6 389.03) scale(.84 1)">L</text><text class="dn" transform="translate(17.9 389.03) scale(0.93 1)" x="-6.21 -0.51" fill="#1787d2" stroke="#1787d2">12</text><text class="doy" x="25.6" y="383.03">072-294</text><text class="st" x="25.6" y="388.93">Ste Justine</text>
<text class="wd" transform="translate(6 403.31) scale(.84 1)">M</text><text class="dn" transform="translate(17.9 403.31) scale(0.93 1)" x="-6.23 -0.53" fill="#1787d2" stroke="#1787d2">13</text><text class="doy" x="25.6" y="397.31">073-293</text><text class="st" x="25.6" y="403.21">S. Rodrigue</text>
<text class="wd" transform="translate(6 417.59) scale(.84 1)">M</text><text class="dn" transform="translate(17.9 417.59) scale(0.93 1)" x="-6.41 -0.71" fill="#1787d2" stroke="#1787d2">14</text><text class="doy" x="25.6" y="411.59">074-292</text><text class="st" x="25.6" y="417.49">Ste Mathilde</text>
<text class="wk" x="61.29 69.56" y="426.77" fill="#1787d2" stroke="#1787d2">11</text>
<text class="wd" transform="translate(6 431.87) scale(.84 1)">J</text><text class="dn" transform="translate(17.9 431.87) scale(0.93 1)" x="-6.28 -0.58" fill="#1787d2" stroke="#1787d2">15</text><text class="doy" x="25.6" y="425.87">075-291</text><text class="st" x="25.6" y="431.77">Ste Louise<tspan class="mn" dx="1.6" fill="#8a8a8a" font-size="4.4">☾</tspan></text>
<text class="wd" transform="translate(6 446.15) scale(.84 1)">V</text><text class="dn" transform="translate(17.9 446.15) scale(0.93 1)" x="-6.23 -0.53" fill="#1787d2" stroke="#1787d2">16</text><text class="doy" x="25.6" y="440.15">076-290</text><text class="st" x="25.6" y="446.05">Ste Bénédicte</text>
<text class="wd" transform="translate(6 460.43) scale(.84 1)">S</text><text class="dn" transform="translate(17.9 460.43) scale(0.93 1)" x="-6.19 -0.49" fill="#1787d2" stroke="#1787d2">17</text><text class="doy" x="25.6" y="454.43">077-289</text><text class="st" x="25.6" y="460.33">S. Patrick</text>
<text class="wd" transform="translate(6 474.71) scale(.84 1)">D</text><text class="dn" transform="translate(17.9 474.71) scale(0.93 1)" x="-6.26 -0.56" fill="#e2001a" stroke="#e2001a">18</text><text class="doy" x="25.6" y="468.71">078-288</text><text class="st" x="25.6" y="474.61">S. Cyrille</text>
<text class="wd" transform="translate(6 488.99) scale(.84 1)">L</text><text class="dn" transform="translate(17.9 488.99) scale(0.93 1)" x="-6.23 -0.53" fill="#1787d2" stroke="#1787d2">19</text><text class="doy" x="25.6" y="482.99">079-287</text><text class="st" x="25.6" y="488.89">S. Joseph</text>
<text class="wd" transform="translate(6 503.27) scale(.84 1)">M</text><text class="dn" transform="translate(17.9 503.27) scale(0.93 1)" x="-6.04 -0.34" fill="#1787d2" stroke="#1787d2">20</text><text class="doy" x="25.6" y="497.27">080-286</text><text class="st" x="25.6" y="503.17">PRINTEMPS</text>
<text class="wd" transform="translate(6 517.55) scale(.84 1)">M</text><text class="dn" transform="translate(17.9 517.55) scale(0.93 1)" x="-6.12 -0.41" fill="#1787d2" stroke="#1787d2">21</text><text class="doy" x="25.6" y="511.55">081-285</text><text class="st" x="25.6" y="517.45">Ste Clémence</text>
<text class="wk" x="60.29 69.27" y="526.73" fill="#1787d2" stroke="#1787d2">12</text>
<text class="wd" transform="translate(6 531.83) scale(.84 1)">J</text><text class="dn" transform="translate(17.9 531.83) scale(0.93 1)" x="-6.05 -0.34" fill="#1787d2" stroke="#1787d2">22</text><text class="doy" x="25.6" y="525.83">082-284</text><text class="st" x="25.6" y="531.73">Ste Léa<tspan class="mn" dx="1.6" fill="#111" font-size="4.2">●</tspan></text>
<text class="wd" transform="translate(6 546.11) scale(.84 1)">V</text><text class="dn" transform="translate(17.9 546.11) scale(0.93 1)" x="-6.07 -0.37" fill="#1787d2" stroke="#1787d2">23</text><text class="doy" x="25.6" y="540.11">083-283</text><text class="st" x="25.6" y="546.01">S. Victorien</text>
<text class="wd" transform="translate(6 560.39) scale(.84 1)">S</text><text class="dn" transform="translate(17.9 560.39) scale(0.93 1)" x="-6.25 -0.54" fill="#1787d2" stroke="#1787d2">24</text><text class="doy" x="25.6" y="554.39">084-282</text><text class="st" x="25.6" y="560.29">Ste Cath. de Suède</text>
<text class="wd" transform="translate(6 574.67) scale(.84 1)">D</text><text class="dn" transform="translate(17.9 574.67) scale(0.93 1)" x="-6.12 -0.41" fill="#e2001a" stroke="#e2001a">25</text><text class="doy" x="25.6" y="568.67">085-281</text><text class="st" x="25.6" y="574.57">S. Humbert</text>
<text class="wd" transform="translate(6 588.95) scale(.84 1)">L</text><text class="dn" transform="translate(17.9 588.95) scale(0.93 1)" x="-6.07 -0.37" fill="#1787d2" stroke="#1787d2">26</text><text class="doy" x="25.6" y="582.95">086-280</text><text class="st" x="25.6" y="588.85">Annonciation</text>
<text class="wd" transform="translate(6 603.23) scale(.84 1)">M</text><text class="dn" transform="translate(17.9 603.23) scale(0.93 1)" x="-6.02 -0.32" fill="#1787d2" stroke="#1787d2">27</text><text class="doy" x="25.6" y="597.23">087-279</text><text class="st" x="25.6" y="603.13">S. Habib</text>
<text class="wd" transform="translate(6 617.51) scale(.84 1)">M</text><text class="dn" transform="translate(17.9 617.51) scale(0.93 1)" x="-6.10 -0.40" fill="#1787d2" stroke="#1787d2">28</text><text class="doy" x="25.6" y="611.51">088-278</text><text class="st" x="25.6" y="617.41">S. Gontran</text>
<text class="wk" x="60.49 69.35" y="626.69" fill="#1787d2" stroke="#1787d2">13</text>
<text class="wd" transform="translate(6 631.79) scale(.84 1)">J</text><text class="dn" transform="translate(17.9 631.79) scale(0.93 1)" x="-6.06 -0.36" fill="#1787d2" stroke="#1787d2">29</text><text class="doy" x="25.6" y="625.79">089-277</text><text class="st" x="25.6" y="631.69">Ste Gwladys</text>
<text class="wd" transform="translate(6 646.07) scale(.84 1)">V</text><text class="dn" transform="translate(17.9 646.07) scale(0.93 1)" x="-5.97 -0.27" fill="#1787d2" stroke="#1787d2">30</text><text class="doy" x="25.6" y="640.07">090-276</text><text class="st" x="25.6" y="645.97">S. Amédée<tspan class="mn" dx="1.6" fill="#8a8a8a" font-size="4.4">☽</tspan></text>
<text class="wd" transform="translate(6 660.35) scale(.84 1)">S</text><text class="dn" transform="translate(17.9 660.35) scale(0.93 1)" x="-6.05 -0.35" fill="#1787d2" stroke="#1787d2">31</text><text class="doy" x="25.6" y="654.35">091-275</text><text class="st" x="25.6" y="660.25">S. Benjamin</text>
<rect x="-1.6" y="220.45" width="1.6" height="57.12" fill="#1a9a4c"/>
<rect x="-3.25" y="220.45" width="1.6" height="157.08" fill="#e2001a"/>
<g transform="translate(69.9 563.57)"><circle r="6" fill="#fff" stroke="#3a3a3a" stroke-width=".8"/><path d="M.3 -3.6L.9 -1.2L1.7 -2.6" fill="none" stroke="#444" stroke-width=".7"/><path d="M-1.6 2.6h1.2M.9 1.4v2.6" stroke="#444" stroke-width=".8"/></g>
<text class="lg" x="1.2" y="678.4" fill="#49a8de" textLength="13.6" lengthAdjust="spacingAndGlyphs">ZONE A</text><rect x=".4" y="679.6" width="16" height="1.2" fill="#1e9ad6"/><text class="lg" x="19.3" y="678.40" fill="#49a8de">Caen, Clermont-Ferrand, Grenoble,</text><text class="lg" x="19.3" y="682.75" fill="#49a8de">Lyon, Montpellier, Nancy-Metz, Nantes,</text><text class="lg" x="19.3" y="687.10" fill="#49a8de">Rennes, Toulouse</text>
<text class="lg" x="1.2" y="696.0" fill="#e9541f" textLength="13.6" lengthAdjust="spacingAndGlyphs">ZONE B</text><rect x=".4" y="697.2" width="16" height="1.2" fill="#e2001a"/><text class="lg" x="19.3" y="696.00" fill="#e9541f">Aix-Marseille, Amiens, Besançon, Dijon,</text><text class="lg" x="19.3" y="700.35" fill="#e9541f">Lille, Limoges, Nice, Orléans-Tours,</text><text class="lg" x="19.3" y="704.70" fill="#e9541f">Poitiers, Reims, Rouen, Strasbourg</text>
<text class="lg" x="1.2" y="713.6" fill="#2a9f56" textLength="13.6" lengthAdjust="spacingAndGlyphs">ZONE C</text><rect x=".4" y="714.8" width="16" height="1.2" fill="#1a9a4c"/><text class="lg" x="19.3" y="713.60" fill="#2a9f56">Bordeaux, Créteil, Paris, Versailles</text>
<text x=".6" y="725.1" style="font-size:3.05px;fill:#666">Les dates des vacances scolaires sont conformes à l'arrêté</text><text x=".6" y="729.1" style="font-size:3.05px;fill:#666">ministériel du 20.07.2009. Elles sont données à titre indicatif</text><text x=".6" y="733.1" style="font-size:3.05px;fill:#666">par l'éditeur sans engager sa responsabilité.</text>
</g>
<g id="m4" transform="translate(318.92 0)">
<path d="M0 219.6V202.6a8 8 0 0 1 8 -8H72.7a8 8 0 0 1 8 8V219.6Z" fill="#159a6b"/>
<text class="mh" x="25.98" y="212.8" textLength="31.75" lengthAdjust="spacingAndGlyphs">avril</text>
<rect x="0" y="219.6" width="80.7" height="43.69" fill="url(#g3)"/>
<path d="M0 748.8H80.7V754.3a8 8 0 0 1 -8 8H8a8 8 0 0 1 -8 -8Z" fill="#159a6b"/>
<rect x="0" y="263.29" width="80.7" height="14.28" fill="#b9dccf"/>
<rect x="0" y="363.25" width="80.7" height="14.28" fill="#b9dccf"/>
<rect x="0" y="463.21" width="80.7" height="14.28" fill="#b9dccf"/>
<rect x="0" y="563.17" width="80.7" height="14.28" fill="#b9dccf"/>
<rect x="0" y="663.13" width="80.7" height="14.28" fill="#b9dccf"/>
<line class="ls" x1="0" x2="80.7" y1="263.29" y2="263.29"/>
<line class="ls" x1="0" x2="80.7" y1="277.57" y2="277.57"/>
<line class="ln" x1="0" x2="80.7" y1="291.85" y2="291.85"/>
<line class="ln" x1="0" x2="80.7" y1="306.13" y2="306.13"/>
<line class="ln" x1="0" x2="58.6" y1="320.41" y2="320.41"/>
<line class="ln" x1="0" x2="80.7" y1="334.69" y2="334.69"/>
<line class="ln" x1="0" x2="80.7" y1="348.97" y2="348.97"/>
<line class="ls" x1="0" x2="80.7" y1="363.25" y2="363.25"/>
<line class="ls" x1="0" x2="80.7" y1="377.53" y2="377.53"/>
<line class="ln" x1="0" x2="80.7" y1="391.81" y2="391.81"/>
<line class="ln" x1="0" x2="80.7" y1="406.09" y2="406.09"/>
<line class="ln" x1="0" x2="58.6" y1="420.37" y2="420.37"/>
<line class="ln" x1="0" x2="80.7" y1="434.65" y2="434.65"/>
<line class="ln" x1="0" x2="80.7" y1="448.93" y2="448.93"/>
<line class="ls" x1="0" x2="80.7" y1="463.21" y2="463.21"/>
<line class="ls" x1="0" x2="80.7" y1="477.49" y2="477.49"/>
<line class="ln" x1="0" x2="80.7" y1="491.77" y2="491.77"/>
<line class="ln" x1="0" x2="80.7" y1="506.05" y2="506.05"/>
<line class="ln" x1="0" x2="58.6" y1="520.33" y2="520.33"/>
<line class="ln" x1="0" x2="80.7" y1="534.61" y2="534.61"/>
<line class="ln" x1="0" x2="80.7" y1="548.89" y2="548.89"/>
<line class="ls" x1="0" x2="80.7" y1="563.17" y2="563.17"/>
<line class="ls" x1="0" x2="80.7" y1="577.45" y2="577.45"/>
<line class="ln" x1="0" x2="80.7" y1="591.73" y2="591.73"/>
<line class="ln" x1="0" x2="80.7" y1="606.01" y2="606.01"/>
<line class="ln" x1="0" x2="58.6" y1="620.29" y2="620.29"/>
<line class="ln" x1="0" x2="80.7" y1="634.57" y2="634.57"/>
<line class="ln" x1="0" x2="80.7" y1="648.85" y2="648.85"/>
<line class="ls" x1="0" x2="80.7" y1="663.13" y2="663.13"/>
<line class="ls" x1="0" x2="80.7" y1="677.41" y2="677.41"/>
<line class="ln" x1="0" x2="80.7" y1="691.69" y2="691.69"/>
<line class="ln" x1="0" x2="80.7" y1="705.97" y2="705.97"/>
<line class="ln" x1="0" x2="80.7" y1="720.25" y2="720.25"/>
<line class="ln" x1="0" x2="80.7" y1="734.53" y2="734.53"/>
<text class="wd" transform="translate(6 274.79) scale(.84 1)">D</text><text class="dn" transform="translate(18.05 274.79) scale(0.93 1)" x="-3.43" fill="#e2001a" stroke="#e2001a">1</text><text class="doy" x="25.6" y="268.79">092-274</text><text class="st" x="25.6" y="274.69">Rameaux</text>
<text class="wd" transform="translate(6 289.07) scale(.84 1)">L</text><text class="dn" transform="translate(18.05 289.07) scale(0.93 1)" x="-3.19" fill="#0f9468" stroke="#0f9468">2</text><text class="doy" x="25.6" y="283.07">093-273</text><text class="st" x="25.6" y="288.97">Ste Sandrine</text>
<text class="wd" transform="translate(6 303.35) scale(.84 1)">M</text><text class="dn" transform="translate(18.05 303.35) scale(0.93 1)" x="-3.15" fill="#0f9468" stroke="#0f9468">3</text><text class="doy" x="25.6" y="297.35">094-272</text><text class="st" x="25.6" y="303.25">S. Richard</text>
<text class="wd" transform="translate(6 317.63) scale(.84 1)">M</text><text class="dn" transform="translate(18.05 317.63) scale(0.93 1)" x="-3.28" fill="#0f9468" stroke="#0f9468">4</text><text class="doy" x="25.6" y="311.63">095-271</text><text class="st" x="25.6" y="317.53">S. Isidore</text>
<text class="wk" x="59.58 68.92" y="326.81" fill="#0f9468" stroke="#0f9468">14</text>
<text class="wd" transform="translate(6 331.91) scale(.84 1)">J</text><text class="dn" transform="translate(18.05 331.91) scale(0.93 1)" x="-3.24" fill="#0f9468" stroke="#0f9468">5</text><text class="doy" x="25.6" y="325.91">096-270</text><text class="st" x="25.6" y="331.81">Ste Irène</text>
<text class="wd" transform="translate(6 346.19) scale(.84 1)">V</text><text class="dn" transform="translate(18.05 346.19) scale(0.93 1)" x="-3.23" fill="#0f9468" stroke="#0f9468">6</text><text class="doy" x="25.6" y="340.19">097-269</text><text class="st" x="25.6" y="346.09">S. Marcellin<tspan class="mn" dx="1.6" fill="#8a8a8a" font-size="4.2">○</tspan></text>
<text class="wd" transform="translate(6 360.47) scale(.84 1)">S</text><text class="dn" transform="translate(18.05 360.47) scale(0.93 1)" x="-3.22" fill="#0f9468" stroke="#0f9468">7</text><text class="doy" x="25.6" y="354.47">098-268</text><text class="st" x="25.6" y="360.37">S. J.-B. de La Salle</text>
<text class="wd" transform="translate(6 374.75) scale(.84 1)">D</text><text class="dn" transform="translate(18.05 374.75) scale(0.93 1)" x="-3.23" fill="#e2001a" stroke="#e2001a">8</text><text class="doy" x="25.6" y="368.75">099-267</text><text class="bg" x="25.5" y="374.85">PÂQUES</text>
<text class="wd" transform="translate(6 389.03) scale(.84 1)">L</text><text class="dn" transform="translate(18.05 389.03) scale(0.93 1)" x="-3.21" fill="#e2001a" stroke="#e2001a">9</text><text class="doy" x="25.6" y="383.03">100-266</text><text class="st" x="25.6" y="388.93">S. Gautier</text>
<text class="wd" transform="translate(6 403.31) scale(.84 1)">M</text><text class="dn" transform="translate(17.9 403.31) scale(0.93 1)" x="-6.20 -0.50" fill="#0f9468" stroke="#0f9468">10</text><text class="doy" x="25.6" y="397.31">101-265</text><text class="st" x="25.6" y="403.21">S. Fulbert</text>
<text class="wd" transform="translate(6 417.59) scale(.84 1)">M</text><text class="dn" transform="translate(17.9 417.59) scale(0.93 1)" x="-6.28 -0.58" fill="#0f9468" stroke="#0f9468">11</text><text class="doy" x="25.6" y="411.59">102-264</text><text class="st" x="25.6" y="417.49">S. Stanislas</text>
<text class="wk" x="61.00 69.46" y="426.77" fill="#0f9468" stroke="#0f9468">15</text>
<text class="wd" transform="translate(6 431.87) scale(.84 1)">J</text><text class="dn" transform="translate(17.9 431.87) scale(0.93 1)" x="-6.21 -0.51" fill="#0f9468" stroke="#0f9468">12</text><text class="doy" x="25.6" y="425.87">103-263</text><text class="st" x="25.6" y="431.77">S. Jules</text>
<text class="wd" transform="translate(6 446.15) scale(.84 1)">V</text><text class="dn" transform="translate(17.9 446.15) scale(0.93 1)" x="-6.23 -0.53" fill="#0f9468" stroke="#0f9468">13</text><text class="doy" x="25.6" y="440.15">104-262</text><text class="st" x="25.6" y="446.05">Ste Ida<tspan class="mn" dx="1.6" fill="#8a8a8a" font-size="4.4">☾</tspan></text>
<text class="wd" transform="translate(6 460.43) scale(.84 1)">S</text><text class="dn" transform="translate(17.9 460.43) scale(0.93 1)" x="-6.41 -0.71" fill="#0f9468" stroke="#0f9468">14</text><text class="doy" x="25.6" y="454.43">105-261</text><text class="st" x="25.6" y="460.33">S. Maxime</text>
<text class="wd" transform="translate(6 474.71) scale(.84 1)">D</text><text class="dn" transform="translate(17.9 474.71) scale(0.93 1)" x="-6.28 -0.58" fill="#e2001a" stroke="#e2001a">15</text><text class="doy" x="25.6" y="468.71">106-260</text><text class="st" x="25.6" y="474.61">S. Paterne</text>
<text class="wd" transform="translate(6 488.99) scale(.84 1)">L</text><text class="dn" transform="translate(17.9 488.99) scale(0.93 1)" x="-6.23 -0.53" fill="#0f9468" stroke="#0f9468">16</text><text class="doy" x="25.6" y="482.99">107-259</text><text class="st" x="25.6" y="488.89">S. Benoît-Joseph</text>
<text class="wd" transform="translate(6 503.27) scale(.84 1)">M</text><text class="dn" transform="translate(17.9 503.27) scale(0.93 1)" x="-6.19 -0.49" fill="#0f9468" stroke="#0f9468">17</text><text class="doy" x="25.6" y="497.27">108-258</text><text class="st" x="25.6" y="503.17">S. Anicet</text>
<text class="wd" transform="translate(6 517.55) scale(.84 1)">M</text><text class="dn" transform="translate(17.9 517.55) scale(0.93 1)" x="-6.26 -0.56" fill="#0f9468" stroke="#0f9468">18</text><text class="doy" x="25.6" y="511.55">109-257</text><text class="st" x="25.6" y="517.45">S. Parfait</text>
<text class="wk" x="60.55 69.04" y="526.73" fill="#0f9468" stroke="#0f9468">16</text>
<text class="wd" transform="translate(6 531.83) scale(.84 1)">J</text><text class="dn" transform="translate(17.9 531.83) scale(0.93 1)" x="-6.23 -0.53" fill="#0f9468" stroke="#0f9468">19</text><text class="doy" x="25.6" y="525.83">110-256</text><text class="st" x="25.6" y="531.73">Ste Emma</text>
<text class="wd" transform="translate(6 546.11) scale(.84 1)">V</text><text class="dn" transform="translate(17.9 546.11) scale(0.93 1)" x="-6.04 -0.34" fill="#0f9468" stroke="#0f9468">20</text><text class="doy" x="25.6" y="540.11">111-255</text><text class="st" x="25.6" y="546.01">Ste Odette</text>
<text class="wd" transform="translate(6 560.39) scale(.84 1)">S</text><text class="dn" transform="translate(17.9 560.39) scale(0.93 1)" x="-6.12 -0.41" fill="#0f9468" stroke="#0f9468">21</text><text class="doy" x="25.6" y="554.39">112-254</text><text class="st" x="25.6" y="560.29">S. Anselme<tspan class="mn" dx="1.6" fill="#111" font-size="4.2">●</tspan></text>
<text class="wd" transform="translate(6 574.67) scale(.84 1)">D</text><text class="dn" transform="translate(17.9 574.67) scale(0.93 1)" x="-6.05 -0.34" fill="#e2001a" stroke="#e2001a">22</text><text class="doy" x="25.6" y="568.67">113-253</text><text class="st" x="25.6" y="574.57">S. Alexandre</text>
<text class="wd" transform="translate(6 588.95) scale(.84 1)">L</text><text class="dn" transform="translate(17.9 588.95) scale(0.93 1)" x="-6.07 -0.37" fill="#0f9468" stroke="#0f9468">23</text><text class="doy" x="25.6" y="582.95">114-252</text><text class="st" x="25.6" y="588.85">S. Georges</text>
<text class="wd" transform="translate(6 603.23) scale(.84 1)">M</text><text class="dn" transform="translate(17.9 603.23) scale(0.93 1)" x="-6.25 -0.54" fill="#0f9468" stroke="#0f9468">24</text><text class="doy" x="25.6" y="597.23">115-251</text><text class="st" x="25.6" y="603.13">S. Fidèle</text>
<text class="wd" transform="translate(6 617.51) scale(.84 1)">M</text><text class="dn" transform="translate(17.9 617.51) scale(0.93 1)" x="-6.12 -0.41" fill="#0f9468" stroke="#0f9468">25</text><text class="doy" x="25.6" y="611.51">116-250</text><text class="st" x="25.6" y="617.41">S. Marc</text>
<text class="wk" x="60.70 69.46" y="626.69" fill="#0f9468" stroke="#0f9468">17</text>
<text class="wd" transform="translate(6 631.79) scale(.84 1)">J</text><text class="dn" transform="translate(17.9 631.79) scale(0.93 1)" x="-6.07 -0.37" fill="#0f9468" stroke="#0f9468">26</text><text class="doy" x="25.6" y="625.79">117-249</text><text class="st" x="25.6" y="631.69">Ste Alida</text>
<text class="wd" transform="translate(6 646.07) scale(.84 1)">V</text><text class="dn" transform="translate(17.9 646.07) scale(0.93 1)" x="-6.02 -0.32" fill="#0f9468" stroke="#0f9468">27</text><text class="doy" x="25.6" y="640.07">118-248</text><text class="st" x="25.6" y="645.97">Ste Zita</text>
<text class="wd" transform="translate(6 660.35) scale(.84 1)">S</text><text class="dn" transform="translate(17.9 660.35) scale(0.93 1)" x="-6.10 -0.40" fill="#0f9468" stroke="#0f9468">28</text><text class="doy" x="25.6" y="654.35">119-247</text><text class="st" x="25.6" y="660.25">Ste Valérie</text>
<text class="wd" transform="translate(6 674.63) scale(.84 1)">D</text><text class="dn" transform="translate(17.9 674.63) scale(0.93 1)" x="-6.06 -0.36" fill="#e2001a" stroke="#e2001a">29</text><text class="doy" x="25.6" y="668.63">120-246</text><text class="st" x="25.6" y="674.53">Jour du Souvenir<tspan class="mn" dx="1.6" fill="#8a8a8a" font-size="4.4">☽</tspan></text>
<text class="wd" transform="translate(6 688.91) scale(.84 1)">L</text><text class="dn" transform="translate(17.9 688.91) scale(0.93 1)" x="-5.97 -0.27" fill="#0f9468" stroke="#0f9468">30</text><text class="doy" x="25.6" y="682.91">121-245</text><text class="st" x="25.6" y="688.81">S. Robert</text>
<rect x="-4.9" y="356.11" width="1.6" height="221.34" fill="#1e9ee0"/>
<rect x="-1.6" y="456.07" width="1.6" height="221.34" fill="#1a9a4c"/>
<rect x="-3.25" y="556.03" width="1.6" height="135.66" fill="#e2001a"/>
</g>
<g id="m5" transform="translate(413.06 0)">
<path d="M0 219.6V202.6a8 8 0 0 1 8 -8H72.7a8 8 0 0 1 8 8V219.6Z" fill="#6db42d"/>
<text class="mh" x="28.00" y="212.8" textLength="26.98" lengthAdjust="spacingAndGlyphs">mai</text>
<rect x="0" y="219.6" width="80.7" height="72.25" fill="url(#g4)"/>
<path d="M0 748.8H80.7V754.3a8 8 0 0 1 -8 8H8a8 8 0 0 1 -8 -8Z" fill="#6db42d"/>
<rect x="0" y="363.25" width="80.7" height="14.28" fill="#d9e6b8"/>
<rect x="0" y="463.21" width="80.7" height="14.28" fill="#d9e6b8"/>
<rect x="0" y="563.17" width="80.7" height="14.28" fill="#d9e6b8"/>
<rect x="0" y="663.13" width="80.7" height="14.28" fill="#d9e6b8"/>
<line class="ln" x1="0" x2="80.7" y1="291.85" y2="291.85"/>
<line class="ln" x1="0" x2="80.7" y1="306.13" y2="306.13"/>
<line class="ln" x1="0" x2="58.6" y1="320.41" y2="320.41"/>
<line class="ln" x1="0" x2="80.7" y1="334.69" y2="334.69"/>
<line class="ln" x1="0" x2="80.7" y1="348.97" y2="348.97"/>
<line class="ls" x1="0" x2="80.7" y1="363.25" y2="363.25"/>
<line class="ls" x1="0" x2="80.7" y1="377.53" y2="377.53"/>
<line class="ln" x1="0" x2="80.7" y1="391.81" y2="391.81"/>
<line class="ln" x1="0" x2="80.7" y1="406.09" y2="406.09"/>
<line class="ln" x1="0" x2="58.6" y1="420.37" y2="420.37"/>
<line class="ln" x1="0" x2="80.7" y1="434.65" y2="434.65"/>
<line class="ln" x1="0" x2="80.7" y1="448.93" y2="448.93"/>
<line class="ls" x1="0" x2="80.7" y1="463.21" y2="463.21"/>
<line class="ls" x1="0" x2="80.7" y1="477.49" y2="477.49"/>
<line class="ln" x1="0" x2="80.7" y1="491.77" y2="491.77"/>
<line class="ln" x1="0" x2="80.7" y1="506.05" y2="506.05"/>
<line class="ln" x1="0" x2="58.6" y1="520.33" y2="520.33"/>
<line class="ln" x1="0" x2="80.7" y1="534.61" y2="534.61"/>
<line class="ln" x1="0" x2="80.7" y1="548.89" y2="548.89"/>
<line class="ls" x1="0" x2="80.7" y1="563.17" y2="563.17"/>
<line class="ls" x1="0" x2="80.7" y1="577.45" y2="577.45"/>
<line class="ln" x1="0" x2="80.7" y1="591.73" y2="591.73"/>
<line class="ln" x1="0" x2="80.7" y1="606.01" y2="606.01"/>
<line class="ln" x1="0" x2="58.6" y1="620.29" y2="620.29"/>
<line class="ln" x1="0" x2="80.7" y1="634.57" y2="634.57"/>
<line class="ln" x1="0" x2="80.7" y1="648.85" y2="648.85"/>
<line class="ls" x1="0" x2="80.7" y1="663.13" y2="663.13"/>
<line class="ls" x1="0" x2="80.7" y1="677.41" y2="677.41"/>
<line class="ln" x1="0" x2="80.7" y1="691.69" y2="691.69"/>
<line class="ln" x1="0" x2="80.7" y1="705.97" y2="705.97"/>
<line class="ln" x1="0" x2="58.6" y1="720.25" y2="720.25"/>
<line class="ln" x1="0" x2="80.7" y1="734.53" y2="734.53"/>
<text class="wd" transform="translate(6 303.35) scale(.84 1)">M</text><text class="dn" transform="translate(18.05 303.35) scale(0.93 1)" x="-3.43" fill="#e2001a" stroke="#e2001a">1</text><text class="doy" x="25.6" y="297.35">122-244</text><text class="bg" x="25.5" y="303.45">FÊTE DU TRAVAIL</text>
<text class="wd" transform="translate(6 317.63) scale(.84 1)">M</text><text class="dn" transform="translate(18.05 317.63) scale(0.93 1)" x="-3.19" fill="#6db42d" stroke="#6db42d">2</text><text class="doy" x="25.6" y="311.63">123-243</text><text class="st" x="25.6" y="317.53">S. Boris</text>
<text class="wk" x="60.63 69.17" y="326.81" fill="#6db42d" stroke="#6db42d">18</text>
<text class="wd" transform="translate(6 331.91) scale(.84 1)">J</text><text class="dn" transform="translate(18.05 331.91) scale(0.93 1)" x="-3.15" fill="#6db42d" stroke="#6db42d">3</text><text class="doy" x="25.6" y="325.91">124-242</text><text class="st" x="25.6" y="331.81">SS. Phil., Jacq.</text>
<text class="wd" transform="translate(6 346.19) scale(.84 1)">V</text><text class="dn" transform="translate(18.05 346.19) scale(0.93 1)" x="-3.28" fill="#6db42d" stroke="#6db42d">4</text><text class="doy" x="25.6" y="340.19">125-241</text><text class="st" x="25.6" y="346.09">S. Sylvain</text>
<text class="wd" transform="translate(6 360.47) scale(.84 1)">S</text><text class="dn" transform="translate(18.05 360.47) scale(0.93 1)" x="-3.24" fill="#6db42d" stroke="#6db42d">5</text><text class="doy" x="25.6" y="354.47">126-240</text><text class="st" x="25.6" y="360.37">Ste Judith</text>
<text class="wd" transform="translate(6 374.75) scale(.84 1)">D</text><text class="dn" transform="translate(18.05 374.75) scale(0.93 1)" x="-3.23" fill="#e2001a" stroke="#e2001a">6</text><text class="doy" x="25.6" y="368.75">127-239</text><text class="st" x="25.6" y="374.65">Ste Prudence<tspan class="mn" dx="1.6" fill="#8a8a8a" font-size="4.2">○</tspan></text>
<text class="wd" transform="translate(6 389.03) scale(.84 1)">L</text><text class="dn" transform="translate(18.05 389.03) scale(0.93 1)" x="-3.22" fill="#6db42d" stroke="#6db42d">7</text><text class="doy" x="25.6" y="383.03">128-238</text><text class="st" x="25.6" y="388.93">Ste Gisèle</text>
<text class="wd" transform="translate(6 403.31) scale(.84 1)">M</text><text class="dn" transform="translate(18.05 403.31) scale(0.93 1)" x="-3.23" fill="#e2001a" stroke="#e2001a">8</text><text class="doy" x="25.6" y="397.31">129-237</text><text class="bg" x="25.5" y="403.41">VICTOIRE 1945</text>
<text class="wd" transform="translate(6 417.59) scale(.84 1)">M</text><text class="dn" transform="translate(18.05 417.59) scale(0.93 1)" x="-3.21" fill="#6db42d" stroke="#6db42d">9</text><text class="doy" x="25.6" y="411.59">130-236</text><text class="st" x="25.6" y="417.49">S. Pacôme</text>
<text class="wk" x="60.55 69.04" y="426.77" fill="#6db42d" stroke="#6db42d">19</text>
<text class="wd" transform="translate(6 431.87) scale(.84 1)">J</text><text class="dn" transform="translate(17.9 431.87) scale(0.93 1)" x="-6.20 -0.50" fill="#6db42d" stroke="#6db42d">10</text><text class="doy" x="25.6" y="425.87">131-235</text><text class="st" x="25.6" y="431.77">Ste Solange</text>
<text class="wd" transform="translate(6 446.15) scale(.84 1)">V</text><text class="dn" transform="translate(17.9 446.15) scale(0.93 1)" x="-6.28 -0.58" fill="#6db42d" stroke="#6db42d">11</text><text class="doy" x="25.6" y="440.15">132-234</text><text class="st" x="25.6" y="446.05">Ste Estelle/S. Mamert</text>
<text class="wd" transform="translate(6 460.43) scale(.84 1)">S</text><text class="dn" transform="translate(17.9 460.43) scale(0.93 1)" x="-6.21 -0.51" fill="#6db42d" stroke="#6db42d">12</text><text class="doy" x="25.6" y="454.43">133-233</text><text class="st" x="25.6" y="460.33">S. Achille/S. Pancrace<tspan class="mn" dx="1.6" fill="#8a8a8a" font-size="4.4">☾</tspan></text>
<text class="wd" transform="translate(6 474.71) scale(.84 1)">D</text><text class="dn" transform="translate(17.9 474.71) scale(0.93 1)" x="-6.23 -0.53" fill="#e2001a" stroke="#e2001a">13</text><text class="doy" x="25.6" y="468.71">134-232</text><text class="st" x="25.6" y="474.61">Ste Rolande/S. Servais</text>
<text class="wd" transform="translate(6 488.99) scale(.84 1)">L</text><text class="dn" transform="translate(17.9 488.99) scale(0.93 1)" x="-6.41 -0.71" fill="#6db42d" stroke="#6db42d">14</text><text class="doy" x="25.6" y="482.99">135-231</text><text class="st" x="25.6" y="488.89">S. Matthias</text>
<text class="wd" transform="translate(6 503.27) scale(.84 1)">M</text><text class="dn" transform="translate(17.9 503.27) scale(0.93 1)" x="-6.28 -0.58" fill="#6db42d" stroke="#6db42d">15</text><text class="doy" x="25.6" y="497.27">136-230</text><text class="st" x="25.6" y="503.17">Ste Denise</text>
<text class="wd" transform="translate(6 517.55) scale(.84 1)">M</text><text class="dn" transform="translate(17.9 517.55) scale(0.93 1)" x="-6.23 -0.53" fill="#6db42d" stroke="#6db42d">16</text><text class="doy" x="25.6" y="511.55">137-229</text><text class="st" x="25.6" y="517.45">S. Honoré</text>
<text class="wk" x="60.22 69.14" y="526.73" fill="#6db42d" stroke="#6db42d">20</text>
<text class="wd" transform="translate(6 531.83) scale(.84 1)">J</text><text class="dn" transform="translate(17.9 531.83) scale(0.93 1)" x="-6.19 -0.49" fill="#e2001a" stroke="#e2001a">17</text><text class="doy" x="25.6" y="525.83">138-228</text><text class="bg" x="25.5" y="531.93">ASCENSION</text>
<text class="wd" transform="translate(6 546.11) scale(.84 1)">V</text><text class="dn" transform="translate(17.9 546.11) scale(0.93 1)" x="-6.26 -0.56" fill="#6db42d" stroke="#6db42d">18</text><text class="doy" x="25.6" y="540.11">139-227</text><text class="st" x="25.6" y="546.01">S. Eric</text>
<text class="wd" transform="translate(6 560.39) scale(.84 1)">S</text><text class="dn" transform="translate(17.9 560.39) scale(0.93 1)" x="-6.23 -0.53" fill="#6db42d" stroke="#6db42d">19</text><text class="doy" x="25.6" y="554.39">140-226</text><text class="st" x="25.6" y="560.29">S. Yves</text>
<text class="wd" transform="translate(6 574.67) scale(.84 1)">D</text><text class="dn" transform="translate(17.9 574.67) scale(0.93 1)" x="-6.04 -0.34" fill="#e2001a" stroke="#e2001a">20</text><text class="doy" x="25.6" y="568.67">141-225</text><text class="st" x="25.6" y="574.57">S. Bernardin<tspan class="mn" dx="1.6" fill="#111" font-size="4.2">●</tspan></text>
<text class="wd" transform="translate(6 588.95) scale(.84 1)">L</text><text class="dn" transform="translate(17.9 588.95) scale(0.93 1)" x="-6.12 -0.41" fill="#6db42d" stroke="#6db42d">21</text><text class="doy" x="25.6" y="582.95">142-224</text><text class="st" x="25.6" y="588.85">S. Constantin</text>
<text class="wd" transform="translate(6 603.23) scale(.84 1)">M</text><text class="dn" transform="translate(17.9 603.23) scale(0.93 1)" x="-6.05 -0.34" fill="#6db42d" stroke="#6db42d">22</text><text class="doy" x="25.6" y="597.23">143-223</text><text class="st" x="25.6" y="603.13">S. Emile</text>
<text class="wd" transform="translate(6 617.51) scale(.84 1)">M</text><text class="dn" transform="translate(17.9 617.51) scale(0.93 1)" x="-6.07 -0.37" fill="#6db42d" stroke="#6db42d">23</text><text class="doy" x="25.6" y="611.51">144-222</text><text class="st" x="25.6" y="617.41">S. Didier</text>
<text class="wk" x="61.00 69.56" y="626.69" fill="#6db42d" stroke="#6db42d">21</text>
<text class="wd" transform="translate(6 631.79) scale(.84 1)">J</text><text class="dn" transform="translate(17.9 631.79) scale(0.93 1)" x="-6.25 -0.54" fill="#6db42d" stroke="#6db42d">24</text><text class="doy" x="25.6" y="625.79">145-221</text><text class="st" x="25.6" y="631.69">S. Donatien</text>
<text class="wd" transform="translate(6 646.07) scale(.84 1)">V</text><text class="dn" transform="translate(17.9 646.07) scale(0.93 1)" x="-6.12 -0.41" fill="#6db42d" stroke="#6db42d">25</text><text class="doy" x="25.6" y="640.07">146-220</text><text class="st" x="25.6" y="645.97">Ste Sophie</text>
<text class="wd" transform="translate(6 660.35) scale(.84 1)">S</text><text class="dn" transform="translate(17.9 660.35) scale(0.93 1)" x="-6.07 -0.37" fill="#6db42d" stroke="#6db42d">26</text><text class="doy" x="25.6" y="654.35">147-219</text><text class="st" x="25.6" y="660.25">S. Bérenger</text>
<text class="wd" transform="translate(6 674.63) scale(.84 1)">D</text><text class="dn" transform="translate(17.9 674.63) scale(0.93 1)" x="-6.02 -0.32" fill="#e2001a" stroke="#e2001a">27</text><text class="doy" x="25.6" y="668.63">148-218</text><text class="bg" x="25.5" y="674.73">PENTECÔTE</text>
<text class="wd" transform="translate(6 688.91) scale(.84 1)">L</text><text class="dn" transform="translate(17.9 688.91) scale(0.93 1)" x="-6.10 -0.40" fill="#e2001a" stroke="#e2001a">28</text><text class="doy" x="25.6" y="682.91">149-217</text><text class="st" x="25.6" y="688.81">S. Germain<tspan class="mn" dx="1.6" fill="#8a8a8a" font-size="4.4">☽</tspan></text>
<text class="wd" transform="translate(6 703.19) scale(.84 1)">M</text><text class="dn" transform="translate(17.9 703.19) scale(0.93 1)" x="-6.06 -0.36" fill="#6db42d" stroke="#6db42d">29</text><text class="doy" x="25.6" y="697.19">150-216</text><text class="st" x="25.6" y="703.09">S. Aymard</text>
<text class="wd" transform="translate(6 717.47) scale(.84 1)">M</text><text class="dn" transform="translate(17.9 717.47) scale(0.93 1)" x="-5.97 -0.27" fill="#6db42d" stroke="#6db42d">30</text><text class="doy" x="25.6" y="711.47">151-215</text><text class="st" x="25.6" y="717.37">S. Ferdinand</text>
<text class="wk" x="60.00 69.27" y="726.65" fill="#6db42d" stroke="#6db42d">22</text>
<text class="wd" transform="translate(6 731.75) scale(.84 1)">J</text><text class="dn" transform="translate(17.9 731.75) scale(0.93 1)" x="-6.05 -0.35" fill="#6db42d" stroke="#6db42d">31</text><text class="doy" x="25.6" y="725.75">152-214</text><text class="st" x="25.6" y="731.65">Visitation</text>
<rect x="-3.25" y="291.85" width="1.6" height="85.68" fill="#e2001a"/>
</g>
<g id="m6" transform="translate(507.20 0)">
<path d="M0 219.6V202.6a8 8 0 0 1 8 -8H72.7a8 8 0 0 1 8 8V219.6Z" fill="#f9b000"/>
<text class="mh" x="29.05" y="212.8" textLength="25.24" lengthAdjust="spacingAndGlyphs">juin</text>
<rect x="0" y="219.6" width="80.7" height="15.13" fill="url(#g5)"/>
<path d="M0 748.8H80.7V754.3a8 8 0 0 1 -8 8H8a8 8 0 0 1 -8 -8Z" fill="#f9b000"/>
<rect x="0" y="263.29" width="80.7" height="14.28" fill="#fcd38a"/>
<rect x="0" y="363.25" width="80.7" height="14.28" fill="#fcd38a"/>
<rect x="0" y="463.21" width="80.7" height="14.28" fill="#fcd38a"/>
<rect x="0" y="563.17" width="80.7" height="14.28" fill="#fcd38a"/>
<line class="ln" x1="0" x2="80.7" y1="234.73" y2="234.73"/>
<line class="ln" x1="0" x2="80.7" y1="249.01" y2="249.01"/>
<line class="ls" x1="0" x2="80.7" y1="263.29" y2="263.29"/>
<line class="ls" x1="0" x2="80.7" y1="277.57" y2="277.57"/>
<line class="ln" x1="0" x2="80.7" y1="291.85" y2="291.85"/>
<line class="ln" x1="0" x2="80.7" y1="306.13" y2="306.13"/>
<line class="ln" x1="0" x2="58.6" y1="320.41" y2="320.41"/>
<line class="ln" x1="0" x2="80.7" y1="334.69" y2="334.69"/>
<line class="ln" x1="0" x2="80.7" y1="348.97" y2="348.97"/>
<line class="ls" x1="0" x2="80.7" y1="363.25" y2="363.25"/>
<line class="ls" x1="0" x2="80.7" y1="377.53" y2="377.53"/>
<line class="ln" x1="0" x2="80.7" y1="391.81" y2="391.81"/>
<line class="ln" x1="0" x2="80.7" y1="406.09" y2="406.09"/>
<line class="ln" x1="0" x2="58.6" y1="420.37" y2="420.37"/>
<line class="ln" x1="0" x2="80.7" y1="434.65" y2="434.65"/>
<line class="ln" x1="0" x2="80.7" y1="448.93" y2="448.93"/>
<line class="ls" x1="0" x2="80.7" y1="463.21" y2="463.21"/>
<line class="ls" x1="0" x2="80.7" y1="477.49" y2="477.49"/>
<line class="ln" x1="0" x2="80.7" y1="491.77" y2="491.77"/>
<line class="ln" x1="0" x2="80.7" y1="506.05" y2="506.05"/>
<line class="ln" x1="0" x2="58.6" y1="520.33" y2="520.33"/>
<line class="ln" x1="0" x2="80.7" y1="534.61" y2="534.61"/>
<line class="ln" x1="0" x2="80.7" y1="548.89" y2="548.89"/>
<line class="ls" x1="0" x2="80.7" y1="563.17" y2="563.17"/>
<line class="ls" x1="0" x2="80.7" y1="577.45" y2="577.45"/>
<line class="ln" x1="0" x2="80.7" y1="591.73" y2="591.73"/>
<line class="ln" x1="0" x2="80.7" y1="606.01" y2="606.01"/>
<line class="ln" x1="0" x2="58.6" y1="620.29" y2="620.29"/>
<line class="ln" x1="0" x2="80.7" y1="634.57" y2="634.57"/>
<line class="ln" x1="0" x2="80.7" y1="648.85" y2="648.85"/>
<line class="ln" x1="0" x2="80.7" y1="663.13" y2="663.13"/>
<line class="ln" x1="0" x2="80.7" y1="677.41" y2="677.41"/>
<line class="ln" x1="0" x2="80.7" y1="691.69" y2="691.69"/>
<line class="ln" x1="0" x2="80.7" y1="705.97" y2="705.97"/>
<line class="ln" x1="0" x2="80.7" y1="720.25" y2="720.25"/>
<line class="ln" x1="0" x2="80.7" y1="734.53" y2="734.53"/>
<text class="wd" transform="translate(6 246.23) scale(.84 1)">V</text><text class="dn" transform="translate(18.05 246.23) scale(0.93 1)" x="-3.43" fill="#f5a800" stroke="#f5a800">1</text><text class="doy" x="25.6" y="240.23">153-213</text><text class="st" x="25.6" y="246.13">S. Justin</text>
<text class="wd" transform="translate(6 260.51) scale(.84 1)">S</text><text class="dn" transform="translate(18.05 260.51) scale(0.93 1)" x="-3.19" fill="#f5a800" stroke="#f5a800">2</text><text class="doy" x="25.6" y="254.51">154-212</text><text class="st" x="25.6" y="260.41">Ste Blandine</text>
<text class="wd" transform="translate(6 274.79) scale(.84 1)">D</text><text class="dn" transform="translate(18.05 274.79) scale(0.93 1)" x="-3.15" fill="#e2001a" stroke="#e2001a">3</text><text class="doy" x="25.6" y="268.79">155-211</text><text class="st" x="25.6" y="274.69">Trinité/F. des Mères</text>
<text class="wd" transform="translate(6 289.07) scale(.84 1)">L</text><text class="dn" transform="translate(18.05 289.07) scale(0.93 1)" x="-3.28" fill="#f5a800" stroke="#f5a800">4</text><text class="doy" x="25.6" y="283.07">156-210</text><text class="st" x="25.6" y="288.97">Ste Clotilde<tspan class="mn" dx="1.6" fill="#8a8a8a" font-size="4.2">○</tspan></text>
<text class="wd" transform="translate(6 303.35) scale(.84 1)">M</text><text class="dn" transform="translate(18.05 303.35) scale(0.93 1)" x="-3.24" fill="#f5a800" stroke="#f5a800">5</text><text class="doy" x="25.6" y="297.35">157-209</text><text class="st" x="25.6" y="303.25">S. Igor</text>
<text class="wd" transform="translate(6 317.63) scale(.84 1)">M</text><text class="dn" transform="translate(18.05 317.63) scale(0.93 1)" x="-3.23" fill="#f5a800" stroke="#f5a800">6</text><text class="doy" x="25.6" y="311.63">158-208</text><text class="st" x="25.6" y="317.53">S. Norbert</text>
<text class="wk" x="60.20 69.35" y="326.81" fill="#f5a800" stroke="#f5a800">23</text>
<text class="wd" transform="translate(6 331.91) scale(.84 1)">J</text><text class="dn" transform="translate(18.05 331.91) scale(0.93 1)" x="-3.22" fill="#f5a800" stroke="#f5a800">7</text><text class="doy" x="25.6" y="325.91">159-207</text><text class="st" x="25.6" y="331.81">S. Gilbert</text>
<text class="wd" transform="translate(6 346.19) scale(.84 1)">V</text><text class="dn" transform="translate(18.05 346.19) scale(0.93 1)" x="-3.23" fill="#f5a800" stroke="#f5a800">8</text><text class="doy" x="25.6" y="340.19">160-206</text><text class="st" x="25.6" y="346.09">S. Médard</text>
<text class="wd" transform="translate(6 360.47) scale(.84 1)">S</text><text class="dn" transform="translate(18.05 360.47) scale(0.93 1)" x="-3.21" fill="#f5a800" stroke="#f5a800">9</text><text class="doy" x="25.6" y="354.47">161-205</text><text class="st" x="25.6" y="360.37">Ste Diane</text>
<text class="wd" transform="translate(6 374.75) scale(.84 1)">D</text><text class="dn" transform="translate(17.9 374.75) scale(0.93 1)" x="-6.20 -0.50" fill="#e2001a" stroke="#e2001a">10</text><text class="doy" x="25.6" y="368.75">162-204</text><text class="st" x="25.6" y="374.65">S. Landry</text>
<text class="wd" transform="translate(6 389.03) scale(.84 1)">L</text><text class="dn" transform="translate(17.9 389.03) scale(0.93 1)" x="-6.28 -0.58" fill="#f5a800" stroke="#f5a800">11</text><text class="doy" x="25.6" y="383.03">163-203</text><text class="st" x="25.6" y="388.93">S. Barnabé<tspan class="mn" dx="1.6" fill="#8a8a8a" font-size="4.4">☾</tspan></text>
<text class="wd" transform="translate(6 403.31) scale(.84 1)">M</text><text class="dn" transform="translate(17.9 403.31) scale(0.93 1)" x="-6.21 -0.51" fill="#f5a800" stroke="#f5a800">12</text><text class="doy" x="25.6" y="397.31">164-202</text><text class="st" x="25.6" y="403.21">S. Guy</text>
<text class="wd" transform="translate(6 417.59) scale(.84 1)">M</text><text class="dn" transform="translate(17.9 417.59) scale(0.93 1)" x="-6.23 -0.53" fill="#f5a800" stroke="#f5a800">13</text><text class="doy" x="25.6" y="411.59">165-201</text><text class="st" x="25.6" y="417.49">S. Ant. de Padoue</text>
<text class="wk" x="59.29 68.92" y="426.77" fill="#f5a800" stroke="#f5a800">24</text>
<text class="wd" transform="translate(6 431.87) scale(.84 1)">J</text><text class="dn" transform="translate(17.9 431.87) scale(0.93 1)" x="-6.41 -0.71" fill="#f5a800" stroke="#f5a800">14</text><text class="doy" x="25.6" y="425.87">166-200</text><text class="st" x="25.6" y="431.77">S. Elisée</text>
<text class="wd" transform="translate(6 446.15) scale(.84 1)">V</text><text class="dn" transform="translate(17.9 446.15) scale(0.93 1)" x="-6.28 -0.58" fill="#f5a800" stroke="#f5a800">15</text><text class="doy" x="25.6" y="440.15">167-199</text><text class="st" x="25.6" y="446.05">Ste Germaine</text>
<text class="wd" transform="translate(6 460.43) scale(.84 1)">S</text><text class="dn" transform="translate(17.9 460.43) scale(0.93 1)" x="-6.23 -0.53" fill="#f5a800" stroke="#f5a800">16</text><text class="doy" x="25.6" y="454.43">168-198</text><text class="st" x="25.6" y="460.33">S. J.-F. Régis</text>
<text class="wd" transform="translate(6 474.71) scale(.84 1)">D</text><text class="dn" transform="translate(17.9 474.71) scale(0.93 1)" x="-6.19 -0.49" fill="#e2001a" stroke="#e2001a">17</text><text class="doy" x="25.6" y="468.71">169-197</text><text class="st" x="25.6" y="474.61">S. Hervé/F. des Pères</text>
<text class="wd" transform="translate(6 488.99) scale(.84 1)">L</text><text class="dn" transform="translate(17.9 488.99) scale(0.93 1)" x="-6.26 -0.56" fill="#f5a800" stroke="#f5a800">18</text><text class="doy" x="25.6" y="482.99">170-196</text><text class="st" x="25.6" y="488.89">S. Léonce</text>
<text class="wd" transform="translate(6 503.27) scale(.84 1)">M</text><text class="dn" transform="translate(17.9 503.27) scale(0.93 1)" x="-6.23 -0.53" fill="#f5a800" stroke="#f5a800">19</text><text class="doy" x="25.6" y="497.27">171-195</text><text class="st" x="25.6" y="503.17">S. Romuald<tspan class="mn" dx="1.6" fill="#111" font-size="4.2">●</tspan></text>
<text class="wd" transform="translate(6 517.55) scale(.84 1)">M</text><text class="dn" transform="translate(17.9 517.55) scale(0.93 1)" x="-6.04 -0.34" fill="#f5a800" stroke="#f5a800">20</text><text class="doy" x="25.6" y="511.55">172-194</text><text class="st" x="25.6" y="517.45">ÉTÉ</text>
<text class="wk" x="60.71 69.46" y="526.73" fill="#f5a800" stroke="#f5a800">25</text>
<text class="wd" transform="translate(6 531.83) scale(.84 1)">J</text><text class="dn" transform="translate(17.9 531.83) scale(0.93 1)" x="-6.12 -0.41" fill="#f5a800" stroke="#f5a800">21</text><text class="doy" x="25.6" y="525.83">173-193</text><text class="st" x="25.6" y="531.73">S. Rodolphe</text>
<text class="wd" transform="translate(6 546.11) scale(.84 1)">V</text><text class="dn" transform="translate(17.9 546.11) scale(0.93 1)" x="-6.05 -0.34" fill="#f5a800" stroke="#f5a800">22</text><text class="doy" x="25.6" y="540.11">174-192</text><text class="st" x="25.6" y="546.01">S. Alban</text>
<text class="wd" transform="translate(6 560.39) scale(.84 1)">S</text><text class="dn" transform="translate(17.9 560.39) scale(0.93 1)" x="-6.07 -0.37" fill="#f5a800" stroke="#f5a800">23</text><text class="doy" x="25.6" y="554.39">175-191</text><text class="st" x="25.6" y="560.29">Ste Audrey</text>
<text class="wd" transform="translate(6 574.67) scale(.84 1)">D</text><text class="dn" transform="translate(17.9 574.67) scale(0.93 1)" x="-6.25 -0.54" fill="#e2001a" stroke="#e2001a">24</text><text class="doy" x="25.6" y="568.67">176-190</text><text class="st" x="25.6" y="574.57">S. Jean-Baptiste</text>
<text class="wd" transform="translate(6 588.95) scale(.84 1)">L</text><text class="dn" transform="translate(17.9 588.95) scale(0.93 1)" x="-6.12 -0.41" fill="#f5a800" stroke="#f5a800">25</text><text class="doy" x="25.6" y="582.95">177-189</text><text class="st" x="25.6" y="588.85">S. Prosper</text>
<text class="wd" transform="translate(6 603.23) scale(.84 1)">M</text><text class="dn" transform="translate(17.9 603.23) scale(0.93 1)" x="-6.07 -0.37" fill="#f5a800" stroke="#f5a800">26</text><text class="doy" x="25.6" y="597.23">178-188</text><text class="st" x="25.6" y="603.13">S. Anthelme</text>
<text class="wd" transform="translate(6 617.51) scale(.84 1)">M</text><text class="dn" transform="translate(17.9 617.51) scale(0.93 1)" x="-6.02 -0.32" fill="#f5a800" stroke="#f5a800">27</text><text class="doy" x="25.6" y="611.51">179-187</text><text class="st" x="25.6" y="617.41">S. Fernand<tspan class="mn" dx="1.6" fill="#8a8a8a" font-size="4.4">☽</tspan></text>
<text class="wk" x="60.26 69.04" y="626.69" fill="#f5a800" stroke="#f5a800">26</text>
<text class="wd" transform="translate(6 631.79) scale(.84 1)">J</text><text class="dn" transform="translate(17.9 631.79) scale(0.93 1)" x="-6.10 -0.40" fill="#f5a800" stroke="#f5a800">28</text><text class="doy" x="25.6" y="625.79">180-186</text><text class="st" x="25.6" y="631.69">S. Irénée</text>
<text class="wd" transform="translate(6 646.07) scale(.84 1)">V</text><text class="dn" transform="translate(17.9 646.07) scale(0.93 1)" x="-6.06 -0.36" fill="#f5a800" stroke="#f5a800">29</text><text class="doy" x="25.6" y="640.07">181-185</text><text class="st" x="25.6" y="645.97">SS. Pierre, Paul</text>
<text class="wd" transform="translate(6 660.35) scale(.84 1)">S</text><text class="dn" transform="translate(17.9 660.35) scale(0.93 1)" x="-5.97 -0.27" fill="#f5a800" stroke="#f5a800">30</text><text class="doy" x="25.6" y="654.35">182-184</text><text class="st" x="25.6" y="660.25">S. Martial</text>
</g>
<g id="m7" transform="translate(601.34 0)">
<path d="M0 219.6V202.6a8 8 0 0 1 8 -8H72.7a8 8 0 0 1 8 8V219.6Z" fill="#e5501a"/>
<text class="mh" x="23.68" y="212.8" textLength="33.55" lengthAdjust="spacingAndGlyphs">juillet</text>
<rect x="0" y="219.6" width="80.7" height="43.69" fill="url(#g6)"/>
<path d="M0 748.8H80.7V754.3a8 8 0 0 1 -8 8H8a8 8 0 0 1 -8 -8Z" fill="#e5501a"/>
<rect x="0" y="263.29" width="80.7" height="14.28" fill="#f9cdb8"/>
<rect x="0" y="363.25" width="80.7" height="14.28" fill="#f9cdb8"/>
<rect x="0" y="463.21" width="80.7" height="14.28" fill="#f9cdb8"/>
<rect x="0" y="563.17" width="80.7" height="14.28" fill="#f9cdb8"/>
<rect x="0" y="663.13" width="80.7" height="14.28" fill="#f9cdb8"/>
<line class="ls" x1="0" x2="80.7" y1="263.29" y2="263.29"/>
<line class="ls" x1="0" x2="80.7" y1="277.57" y2="277.57"/>
<line class="ln" x1="0" x2="80.7" y1="291.85" y2="291.85"/>
<line class="ln" x1="0" x2="80.7" y1="306.13" y2="306.13"/>
<line class="ln" x1="0" x2="58.6" y1="320.41" y2="320.41"/>
<line class="ln" x1="0" x2="80.7" y1="334.69" y2="334.69"/>
<line class="ln" x1="0" x2="80.7" y1="348.97" y2="348.97"/>
<line class="ls" x1="0" x2="80.7" y1="363.25" y2="363.25"/>
<line class="ls" x1="0" x2="80.7" y1="377.53" y2="377.53"/>
<line class="ln" x1="0" x2="80.7" y1="391.81" y2="391.81"/>
<line class="ln" x1="0" x2="80.7" y1="406.09" y2="406.09"/>
<line class="ln" x1="0" x2="58.6" y1="420.37" y2="420.37"/>
<line class="ln" x1="0" x2="80.7" y1="434.65" y2="434.65"/>
<line class="ln" x1="0" x2="80.7" y1="448.93" y2="448.93"/>
<line class="ls" x1="0" x2="80.7" y1="463.21" y2="463.21"/>
<line class="ls" x1="0" x2="80.7" y1="477.49" y2="477.49"/>
<line class="ln" x1="0" x2="80.7" y1="491.77" y2="491.77"/>
<line class="ln" x1="0" x2="80.7" y1="506.05" y2="506.05"/>
<line class="ln" x1="0" x2="58.6" y1="520.33" y2="520.33"/>
<line class="ln" x1="0" x2="80.7" y1="534.61" y2="534.61"/>
<line class="ln" x1="0" x2="80.7" y1="548.89" y2="548.89"/>
<line class="ls" x1="0" x2="80.7" y1="563.17" y2="563.17"/>
<line class="ls" x1="0" x2="80.7" y1="577.45" y2="577.45"/>
<line class="ln" x1="0" x2="80.7" y1="591.73" y2="591.73"/>
<line class="ln" x1="0" x2="80.7" y1="606.01" y2="606.01"/>
<line class="ln" x1="0" x2="58.6" y1="620.29" y2="620.29"/>
<line class="ln" x1="0" x2="80.7" y1="634.57" y2="634.57"/>
<line class="ln" x1="0" x2="80.7" y1="648.85" y2="648.85"/>
<line class="ls" x1="0" x2="80.7" y1="663.13" y2="663.13"/>
<line class="ls" x1="0" x2="80.7" y1="677.41" y2="677.41"/>
<line class="ln" x1="0" x2="80.7" y1="691.69" y2="691.69"/>
<line class="ln" x1="0" x2="80.7" y1="705.97" y2="705.97"/>
<line class="ln" x1="0" x2="80.7" y1="720.25" y2="720.25"/>
<line class="ln" x1="0" x2="80.7" y1="734.53" y2="734.53"/>
<text class="wd" transform="translate(6 274.79) scale(.84 1)">D</text><text class="dn" transform="translate(18.05 274.79) scale(0.93 1)" x="-3.43" fill="#e2001a" stroke="#e2001a">1</text><text class="doy" x="25.6" y="268.79">183-183</text><text class="st" x="25.6" y="274.69">S. Thierry</text>
<text class="wd" transform="translate(6 289.07) scale(.84 1)">L</text><text class="dn" transform="translate(18.05 289.07) scale(0.93 1)" x="-3.19" fill="#e5501a" stroke="#e5501a">2</text><text class="doy" x="25.6" y="283.07">184-182</text><text class="st" x="25.6" y="288.97">S. Martinien</text>
<text class="wd" transform="translate(6 303.35) scale(.84 1)">M</text><text class="dn" transform="translate(18.05 303.35) scale(0.93 1)" x="-3.15" fill="#e5501a" stroke="#e5501a">3</text><text class="doy" x="25.6" y="297.35">185-181</text><text class="st" x="25.6" y="303.25">S. Thomas<tspan class="mn" dx="1.6" fill="#8a8a8a" font-size="4.2">○</tspan></text>
<text class="wd" transform="translate(6 317.63) scale(.84 1)">M</text><text class="dn" transform="translate(18.05 317.63) scale(0.93 1)" x="-3.28" fill="#e5501a" stroke="#e5501a">4</text><text class="doy" x="25.6" y="311.63">186-180</text><text class="st" x="25.6" y="317.53">S. Florent</text>
<text class="wk" x="60.41 69.46" y="326.81" fill="#e5501a" stroke="#e5501a">27</text>
<text class="wd" transform="translate(6 331.91) scale(.84 1)">J</text><text class="dn" transform="translate(18.05 331.91) scale(0.93 1)" x="-3.24" fill="#e5501a" stroke="#e5501a">5</text><text class="doy" x="25.6" y="325.91">187-179</text><text class="st" x="25.6" y="331.81">S. Antoine</text>
<text class="wd" transform="translate(6 346.19) scale(.84 1)">V</text><text class="dn" transform="translate(18.05 346.19) scale(0.93 1)" x="-3.23" fill="#e5501a" stroke="#e5501a">6</text><text class="doy" x="25.6" y="340.19">188-178</text><text class="st" x="25.6" y="346.09">Ste Mariette</text>
<text class="wd" transform="translate(6 360.47) scale(.84 1)">S</text><text class="dn" transform="translate(18.05 360.47) scale(0.93 1)" x="-3.22" fill="#e5501a" stroke="#e5501a">7</text><text class="doy" x="25.6" y="354.47">189-177</text><text class="st" x="25.6" y="360.37">S. Raoul</text>
<text class="wd" transform="translate(6 374.75) scale(.84 1)">D</text><text class="dn" transform="translate(18.05 374.75) scale(0.93 1)" x="-3.23" fill="#e2001a" stroke="#e2001a">8</text><text class="doy" x="25.6" y="368.75">190-176</text><text class="st" x="25.6" y="374.65">S. Thibaut</text>
<text class="wd" transform="translate(6 389.03) scale(.84 1)">L</text><text class="dn" transform="translate(18.05 389.03) scale(0.93 1)" x="-3.21" fill="#e5501a" stroke="#e5501a">9</text><text class="doy" x="25.6" y="383.03">191-175</text><text class="st" x="25.6" y="388.93">Ste Amandine</text>
<text class="wd" transform="translate(6 403.31) scale(.84 1)">M</text><text class="dn" transform="translate(17.9 403.31) scale(0.93 1)" x="-6.20 -0.50" fill="#e5501a" stroke="#e5501a">10</text><text class="doy" x="25.6" y="397.31">192-174</text><text class="st" x="25.6" y="403.21">S. Ulrich</text>
<text class="wd" transform="translate(6 417.59) scale(.84 1)">M</text><text class="dn" transform="translate(17.9 417.59) scale(0.93 1)" x="-6.28 -0.58" fill="#e5501a" stroke="#e5501a">11</text><text class="doy" x="25.6" y="411.59">193-173</text><text class="st" x="25.6" y="417.49">S. Benoît<tspan class="mn" dx="1.6" fill="#8a8a8a" font-size="4.4">☾</tspan></text>
<text class="wk" x="60.34 69.17" y="426.77" fill="#e5501a" stroke="#e5501a">28</text>
<text class="wd" transform="translate(6 431.87) scale(.84 1)">J</text><text class="dn" transform="translate(17.9 431.87) scale(0.93 1)" x="-6.21 -0.51" fill="#e5501a" stroke="#e5501a">12</text><text class="doy" x="25.6" y="425.87">194-172</text><text class="st" x="25.6" y="431.77">S. Olivier</text>
<text class="wd" transform="translate(6 446.15) scale(.84 1)">V</text><text class="dn" transform="translate(17.9 446.15) scale(0.93 1)" x="-6.23 -0.53" fill="#e5501a" stroke="#e5501a">13</text><text class="doy" x="25.6" y="440.15">195-171</text><text class="st" x="25.6" y="446.05">SS. Henri, Joël</text>
<text class="wd" transform="translate(6 460.43) scale(.84 1)">S</text><text class="dn" transform="translate(17.9 460.43) scale(0.93 1)" x="-6.41 -0.71" fill="#e2001a" stroke="#e2001a">14</text><text class="doy" x="25.6" y="454.43">196-170</text><text class="bg" x="25.5" y="460.53">FÊTE NATIONALE</text>
<text class="wd" transform="translate(6 474.71) scale(.84 1)">D</text><text class="dn" transform="translate(17.9 474.71) scale(0.93 1)" x="-6.28 -0.58" fill="#e2001a" stroke="#e2001a">15</text><text class="doy" x="25.6" y="468.71">197-169</text><text class="st" x="25.6" y="474.61">S. Donald</text>
<text class="wd" transform="translate(6 488.99) scale(.84 1)">L</text><text class="dn" transform="translate(17.9 488.99) scale(0.93 1)" x="-6.23 -0.53" fill="#e5501a" stroke="#e5501a">16</text><text class="doy" x="25.6" y="482.99">198-168</text><text class="st" x="25.6" y="488.89">N.-D. du Mt-Carmel</text>
<text class="wd" transform="translate(6 503.27) scale(.84 1)">M</text><text class="dn" transform="translate(17.9 503.27) scale(0.93 1)" x="-6.19 -0.49" fill="#e5501a" stroke="#e5501a">17</text><text class="doy" x="25.6" y="497.27">199-167</text><text class="st" x="25.6" y="503.17">Ste Charlotte</text>
<text class="wd" transform="translate(6 517.55) scale(.84 1)">M</text><text class="dn" transform="translate(17.9 517.55) scale(0.93 1)" x="-6.26 -0.56" fill="#e5501a" stroke="#e5501a">18</text><text class="doy" x="25.6" y="511.55">200-166</text><text class="st" x="25.6" y="517.45">S. Frédéric</text>
<text class="wk" x="60.26 69.04" y="526.73" fill="#e5501a" stroke="#e5501a">29</text>
<text class="wd" transform="translate(6 531.83) scale(.84 1)">J</text><text class="dn" transform="translate(17.9 531.83) scale(0.93 1)" x="-6.23 -0.53" fill="#e5501a" stroke="#e5501a">19</text><text class="doy" x="25.6" y="525.83">201-165</text><text class="st" x="25.6" y="531.73">S. Arsène<tspan class="mn" dx="1.6" fill="#111" font-size="4.2">●</tspan></text>
<text class="wd" transform="translate(6 546.11) scale(.84 1)">V</text><text class="dn" transform="translate(17.9 546.11) scale(0.93 1)" x="-6.04 -0.34" fill="#e5501a" stroke="#e5501a">20</text><text class="doy" x="25.6" y="540.11">202-164</text><text class="st" x="25.6" y="546.01">Ste Marina</text>
<text class="wd" transform="translate(6 560.39) scale(.84 1)">S</text><text class="dn" transform="translate(17.9 560.39) scale(0.93 1)" x="-6.12 -0.41" fill="#e5501a" stroke="#e5501a">21</text><text class="doy" x="25.6" y="554.39">203-163</text><text class="st" x="25.6" y="560.29">S. Victor</text>
<text class="wd" transform="translate(6 574.67) scale(.84 1)">D</text><text class="dn" transform="translate(17.9 574.67) scale(0.93 1)" x="-6.05 -0.34" fill="#e2001a" stroke="#e2001a">22</text><text class="doy" x="25.6" y="568.67">204-162</text><text class="st" x="25.6" y="574.57">Ste Marie-Mad.</text>
<text class="wd" transform="translate(6 588.95) scale(.84 1)">L</text><text class="dn" transform="translate(17.9 588.95) scale(0.93 1)" x="-6.07 -0.37" fill="#e5501a" stroke="#e5501a">23</text><text class="doy" x="25.6" y="582.95">205-161</text><text class="st" x="25.6" y="588.85">Ste Brigitte</text>
<text class="wd" transform="translate(6 603.23) scale(.84 1)">M</text><text class="dn" transform="translate(17.9 603.23) scale(0.93 1)" x="-6.25 -0.54" fill="#e5501a" stroke="#e5501a">24</text><text class="doy" x="25.6" y="597.23">206-160</text><text class="st" x="25.6" y="603.13">Ste Christine</text>
<text class="wd" transform="translate(6 617.51) scale(.84 1)">M</text><text class="dn" transform="translate(17.9 617.51) scale(0.93 1)" x="-6.12 -0.41" fill="#e5501a" stroke="#e5501a">25</text><text class="doy" x="25.6" y="611.51">207-159</text><text class="st" x="25.6" y="617.41">S. Jacques</text>
<text class="wk" x="60.31 69.14" y="626.69" fill="#e5501a" stroke="#e5501a">30</text>
<text class="wd" transform="translate(6 631.79) scale(.84 1)">J</text><text class="dn" transform="translate(17.9 631.79) scale(0.93 1)" x="-6.07 -0.37" fill="#e5501a" stroke="#e5501a">26</text><text class="doy" x="25.6" y="625.79">208-158</text><text class="st" x="25.6" y="631.69">SS. Anne, Joachim<tspan class="mn" dx="1.6" fill="#8a8a8a" font-size="4.4">☽</tspan></text>
<text class="wd" transform="translate(6 646.07) scale(.84 1)">V</text><text class="dn" transform="translate(17.9 646.07) scale(0.93 1)" x="-6.02 -0.32" fill="#e5501a" stroke="#e5501a">27</text><text class="doy" x="25.6" y="640.07">209-157</text><text class="st" x="25.6" y="645.97">Ste Nathalie</text>
<text class="wd" transform="translate(6 660.35) scale(.84 1)">S</text><text class="dn" transform="translate(17.9 660.35) scale(0.93 1)" x="-6.10 -0.40" fill="#e5501a" stroke="#e5501a">28</text><text class="doy" x="25.6" y="654.35">210-156</text><text class="st" x="25.6" y="660.25">S. Samson</text>
<text class="wd" transform="translate(6 674.63) scale(.84 1)">D</text><text class="dn" transform="translate(17.9 674.63) scale(0.93 1)" x="-6.06 -0.36" fill="#e2001a" stroke="#e2001a">29</text><text class="doy" x="25.6" y="668.63">211-155</text><text class="st" x="25.6" y="674.53">Ste Marthe</text>
<text class="wd" transform="translate(6 688.91) scale(.84 1)">L</text><text class="dn" transform="translate(17.9 688.91) scale(0.93 1)" x="-5.97 -0.27" fill="#e5501a" stroke="#e5501a">30</text><text class="doy" x="25.6" y="682.91">212-154</text><text class="st" x="25.6" y="688.81">Ste Juliette</text>
<text class="wd" transform="translate(6 703.19) scale(.84 1)">M</text><text class="dn" transform="translate(17.9 703.19) scale(0.93 1)" x="-6.05 -0.35" fill="#e5501a" stroke="#e5501a">31</text><text class="doy" x="25.6" y="697.19">213-153</text><text class="st" x="25.6" y="703.09">S. Ignace de L.</text>
<rect x="-4.9" y="334.69" width="1.6" height="371.28" fill="#1e9ee0"/>
<rect x="-3.25" y="334.69" width="1.6" height="371.28" fill="#e2001a"/>
<rect x="-1.6" y="334.69" width="1.6" height="371.28" fill="#1a9a4c"/>
</g>
<g id="m8" transform="translate(695.48 0)">
<path d="M0 219.6V202.6a8 8 0 0 1 8 -8H72.7a8 8 0 0 1 8 8V219.6Z" fill="#f29100"/>
<text class="mh" x="23.92" y="212.8" textLength="32.88" lengthAdjust="spacingAndGlyphs">août</text>
<rect x="0" y="219.6" width="80.7" height="86.53" fill="url(#g7)"/>
<path d="M0 748.8H80.7V754.3a8 8 0 0 1 -8 8H8a8 8 0 0 1 -8 -8Z" fill="#f29100"/>
<rect x="0" y="363.25" width="80.7" height="14.28" fill="#fbd19b"/>
<rect x="0" y="463.21" width="80.7" height="14.28" fill="#fbd19b"/>
<rect x="0" y="563.17" width="80.7" height="14.28" fill="#fbd19b"/>
<rect x="0" y="663.13" width="80.7" height="14.28" fill="#fbd19b"/>
<line class="ln" x1="0" x2="80.7" y1="306.13" y2="306.13"/>
<line class="ln" x1="0" x2="58.6" y1="320.41" y2="320.41"/>
<line class="ln" x1="0" x2="80.7" y1="334.69" y2="334.69"/>
<line class="ln" x1="0" x2="80.7" y1="348.97" y2="348.97"/>
<line class="ls" x1="0" x2="80.7" y1="363.25" y2="363.25"/>
<line class="ls" x1="0" x2="80.7" y1="377.53" y2="377.53"/>
<line class="ln" x1="0" x2="80.7" y1="391.81" y2="391.81"/>
<line class="ln" x1="0" x2="80.7" y1="406.09" y2="406.09"/>
<line class="ln" x1="0" x2="58.6" y1="420.37" y2="420.37"/>
<line class="ln" x1="0" x2="80.7" y1="434.65" y2="434.65"/>
<line class="ln" x1="0" x2="80.7" y1="448.93" y2="448.93"/>
<line class="ls" x1="0" x2="80.7" y1="463.21" y2="463.21"/>
<line class="ls" x1="0" x2="80.7" y1="477.49" y2="477.49"/>
<line class="ln" x1="0" x2="80.7" y1="491.77" y2="491.77"/>
<line class="ln" x1="0" x2="80.7" y1="506.05" y2="506.05"/>
<line class="ln" x1="0" x2="58.6" y1="520.33" y2="520.33"/>
<line class="ln" x1="0" x2="80.7" y1="534.61" y2="534.61"/>
<line class="ln" x1="0" x2="80.7" y1="548.89" y2="548.89"/>
<line class="ls" x1="0" x2="80.7" y1="563.17" y2="563.17"/>
<line class="ls" x1="0" x2="80.7" y1="577.45" y2="577.45"/>
<line class="ln" x1="0" x2="80.7" y1="591.73" y2="591.73"/>
<line class="ln" x1="0" x2="80.7" y1="606.01" y2="606.01"/>
<line class="ln" x1="0" x2="58.6" y1="620.29" y2="620.29"/>
<line class="ln" x1="0" x2="80.7" y1="634.57" y2="634.57"/>
<line class="ln" x1="0" x2="80.7" y1="648.85" y2="648.85"/>
<line class="ls" x1="0" x2="80.7" y1="663.13" y2="663.13"/>
<line class="ls" x1="0" x2="80.7" y1="677.41" y2="677.41"/>
<line class="ln" x1="0" x2="80.7" y1="691.69" y2="691.69"/>
<line class="ln" x1="0" x2="80.7" y1="705.97" y2="705.97"/>
<line class="ln" x1="0" x2="58.6" y1="720.25" y2="720.25"/>
<line class="ln" x1="0" x2="80.7" y1="734.53" y2="734.53"/>
<text class="wd" transform="translate(6 317.63) scale(.84 1)">M</text><text class="dn" transform="translate(18.05 317.63) scale(0.93 1)" x="-3.43" fill="#f29100" stroke="#f29100">1</text><text class="doy" x="25.6" y="311.63">214-152</text><text class="st" x="25.6" y="317.53">S. Alphonse</text>
<text class="wk" x="61.08 69.56" y="326.81" fill="#f29100" stroke="#f29100">31</text>
<text class="wd" transform="translate(6 331.91) scale(.84 1)">J</text><text class="dn" transform="translate(18.05 331.91) scale(0.93 1)" x="-3.19" fill="#f29100" stroke="#f29100">2</text><text class="doy" x="25.6" y="325.91">215-151</text><text class="st" x="25.6" y="331.81">S. Julien-Eymard<tspan class="mn" dx="1.6" fill="#8a8a8a" font-size="4.2">○</tspan></text>
<text class="wd" transform="translate(6 346.19) scale(.84 1)">V</text><text class="dn" transform="translate(18.05 346.19) scale(0.93 1)" x="-3.15" fill="#f29100" stroke="#f29100">3</text><text class="doy" x="25.6" y="340.19">216-150</text><text class="st" x="25.6" y="346.09">Ste Lydie</text>
<text class="wd" transform="translate(6 360.47) scale(.84 1)">S</text><text class="dn" transform="translate(18.05 360.47) scale(0.93 1)" x="-3.28" fill="#f29100" stroke="#f29100">4</text><text class="doy" x="25.6" y="354.47">217-149</text><text class="st" x="25.6" y="360.37">S. J.-M. Vianney</text>
<text class="wd" transform="translate(6 374.75) scale(.84 1)">D</text><text class="dn" transform="translate(18.05 374.75) scale(0.93 1)" x="-3.24" fill="#e2001a" stroke="#e2001a">5</text><text class="doy" x="25.6" y="368.75">218-148</text><text class="st" x="25.6" y="374.65">S. Abel</text>
<text class="wd" transform="translate(6 389.03) scale(.84 1)">L</text><text class="dn" transform="translate(18.05 389.03) scale(0.93 1)" x="-3.23" fill="#f29100" stroke="#f29100">6</text><text class="doy" x="25.6" y="383.03">219-147</text><text class="st" x="25.6" y="388.93">Transfiguration</text>
<text class="wd" transform="translate(6 403.31) scale(.84 1)">M</text><text class="dn" transform="translate(18.05 403.31) scale(0.93 1)" x="-3.22" fill="#f29100" stroke="#f29100">7</text><text class="doy" x="25.6" y="397.31">220-146</text><text class="st" x="25.6" y="403.21">S. Gaétan</text>
<text class="wd" transform="translate(6 417.59) scale(.84 1)">M</text><text class="dn" transform="translate(18.05 417.59) scale(0.93 1)" x="-3.23" fill="#f29100" stroke="#f29100">8</text><text class="doy" x="25.6" y="411.59">221-145</text><text class="st" x="25.6" y="417.49">S. Dominique</text>
<text class="wk" x="60.08 69.27" y="426.77" fill="#f29100" stroke="#f29100">32</text>
<text class="wd" transform="translate(6 431.87) scale(.84 1)">J</text><text class="dn" transform="translate(18.05 431.87) scale(0.93 1)" x="-3.21" fill="#f29100" stroke="#f29100">9</text><text class="doy" x="25.6" y="425.87">222-144</text><text class="st" x="25.6" y="431.77">S. Amour<tspan class="mn" dx="1.6" fill="#8a8a8a" font-size="4.4">☾</tspan></text>
<text class="wd" transform="translate(6 446.15) scale(.84 1)">V</text><text class="dn" transform="translate(17.9 446.15) scale(0.93 1)" x="-6.20 -0.50" fill="#f29100" stroke="#f29100">10</text><text class="doy" x="25.6" y="440.15">223-143</text><text class="st" x="25.6" y="446.05">S. Laurent</text>
<text class="wd" transform="translate(6 460.43) scale(.84 1)">S</text><text class="dn" transform="translate(17.9 460.43) scale(0.93 1)" x="-6.28 -0.58" fill="#f29100" stroke="#f29100">11</text><text class="doy" x="25.6" y="454.43">224-142</text><text class="st" x="25.6" y="460.33">Ste Claire</text>
<text class="wd" transform="translate(6 474.71) scale(.84 1)">D</text><text class="dn" transform="translate(17.9 474.71) scale(0.93 1)" x="-6.21 -0.51" fill="#e2001a" stroke="#e2001a">12</text><text class="doy" x="25.6" y="468.71">225-141</text><text class="st" x="25.6" y="474.61">Ste Clarisse</text>
<text class="wd" transform="translate(6 488.99) scale(.84 1)">L</text><text class="dn" transform="translate(17.9 488.99) scale(0.93 1)" x="-6.23 -0.53" fill="#f29100" stroke="#f29100">13</text><text class="doy" x="25.6" y="482.99">226-140</text><text class="st" x="25.6" y="488.89">S. Hippolyte</text>
<text class="wd" transform="translate(6 503.27) scale(.84 1)">M</text><text class="dn" transform="translate(17.9 503.27) scale(0.93 1)" x="-6.41 -0.71" fill="#f29100" stroke="#f29100">14</text><text class="doy" x="25.6" y="497.27">227-139</text><text class="st" x="25.6" y="503.17">S. Evrard</text>
<text class="wd" transform="translate(6 517.55) scale(.84 1)">M</text><text class="dn" transform="translate(17.9 517.55) scale(0.93 1)" x="-6.28 -0.58" fill="#e2001a" stroke="#e2001a">15</text><text class="doy" x="25.6" y="511.55">228-138</text><text class="bg" x="25.5" y="517.65">ASSOMPTION</text>
<text class="wk" x="60.29 69.35" y="526.73" fill="#f29100" stroke="#f29100">33</text>
<text class="wd" transform="translate(6 531.83) scale(.84 1)">J</text><text class="dn" transform="translate(17.9 531.83) scale(0.93 1)" x="-6.23 -0.53" fill="#f29100" stroke="#f29100">16</text><text class="doy" x="25.6" y="525.83">229-137</text><text class="st" x="25.6" y="531.73">S. Armel</text>
<text class="wd" transform="translate(6 546.11) scale(.84 1)">V</text><text class="dn" transform="translate(17.9 546.11) scale(0.93 1)" x="-6.19 -0.49" fill="#f29100" stroke="#f29100">17</text><text class="doy" x="25.6" y="540.11">230-136</text><text class="st" x="25.6" y="546.01">S. Hyacinthe<tspan class="mn" dx="1.6" fill="#111" font-size="4.2">●</tspan></text>
<text class="wd" transform="translate(6 560.39) scale(.84 1)">S</text><text class="dn" transform="translate(17.9 560.39) scale(0.93 1)" x="-6.26 -0.56" fill="#f29100" stroke="#f29100">18</text><text class="doy" x="25.6" y="554.39">231-135</text><text class="st" x="25.6" y="560.29">Ste Hélène</text>
<text class="wd" transform="translate(6 574.67) scale(.84 1)">D</text><text class="dn" transform="translate(17.9 574.67) scale(0.93 1)" x="-6.23 -0.53" fill="#e2001a" stroke="#e2001a">19</text><text class="doy" x="25.6" y="568.67">232-134</text><text class="st" x="25.6" y="574.57">S. Jean-Eudes</text>
<text class="wd" transform="translate(6 588.95) scale(.84 1)">L</text><text class="dn" transform="translate(17.9 588.95) scale(0.93 1)" x="-6.04 -0.34" fill="#f29100" stroke="#f29100">20</text><text class="doy" x="25.6" y="582.95">233-133</text><text class="st" x="25.6" y="588.85">S. Bernard</text>
<text class="wd" transform="translate(6 603.23) scale(.84 1)">M</text><text class="dn" transform="translate(17.9 603.23) scale(0.93 1)" x="-6.12 -0.41" fill="#f29100" stroke="#f29100">21</text><text class="doy" x="25.6" y="597.23">234-132</text><text class="st" x="25.6" y="603.13">S. Christophe</text>
<text class="wd" transform="translate(6 617.51) scale(.84 1)">M</text><text class="dn" transform="translate(17.9 617.51) scale(0.93 1)" x="-6.05 -0.34" fill="#f29100" stroke="#f29100">22</text><text class="doy" x="25.6" y="611.51">235-131</text><text class="st" x="25.6" y="617.41">S. Fabrice</text>
<text class="wk" x="59.37 68.92" y="626.69" fill="#f29100" stroke="#f29100">34</text>
<text class="wd" transform="translate(6 631.79) scale(.84 1)">J</text><text class="dn" transform="translate(17.9 631.79) scale(0.93 1)" x="-6.07 -0.37" fill="#f29100" stroke="#f29100">23</text><text class="doy" x="25.6" y="625.79">236-130</text><text class="st" x="25.6" y="631.69">Ste Rose de L.</text>
<text class="wd" transform="translate(6 646.07) scale(.84 1)">V</text><text class="dn" transform="translate(17.9 646.07) scale(0.93 1)" x="-6.25 -0.54" fill="#f29100" stroke="#f29100">24</text><text class="doy" x="25.6" y="640.07">237-129</text><text class="st" x="25.6" y="645.97">S. Barthélemy<tspan class="mn" dx="1.6" fill="#8a8a8a" font-size="4.4">☽</tspan></text>
<text class="wd" transform="translate(6 660.35) scale(.84 1)">S</text><text class="dn" transform="translate(17.9 660.35) scale(0.93 1)" x="-6.12 -0.41" fill="#f29100" stroke="#f29100">25</text><text class="doy" x="25.6" y="654.35">238-128</text><text class="st" x="25.6" y="660.25">S. Louis</text>
<text class="wd" transform="translate(6 674.63) scale(.84 1)">D</text><text class="dn" transform="translate(17.9 674.63) scale(0.93 1)" x="-6.07 -0.37" fill="#e2001a" stroke="#e2001a">26</text><text class="doy" x="25.6" y="668.63">239-127</text><text class="st" x="25.6" y="674.53">Ste Natacha</text>
<text class="wd" transform="translate(6 688.91) scale(.84 1)">L</text><text class="dn" transform="translate(17.9 688.91) scale(0.93 1)" x="-6.02 -0.32" fill="#f29100" stroke="#f29100">27</text><text class="doy" x="25.6" y="682.91">240-126</text><text class="st" x="25.6" y="688.81">Ste Monique</text>
<text class="wd" transform="translate(6 703.19) scale(.84 1)">M</text><text class="dn" transform="translate(17.9 703.19) scale(0.93 1)" x="-6.10 -0.40" fill="#f29100" stroke="#f29100">28</text><text class="doy" x="25.6" y="697.19">241-125</text><text class="st" x="25.6" y="703.09">S. Augustin</text>
<text class="wd" transform="translate(6 717.47) scale(.84 1)">M</text><text class="dn" transform="translate(17.9 717.47) scale(0.93 1)" x="-6.06 -0.36" fill="#f29100" stroke="#f29100">29</text><text class="doy" x="25.6" y="711.47">242-124</text><text class="st" x="25.6" y="717.37">Ste Sabine</text>
<text class="wk" x="60.79 69.46" y="726.65" fill="#f29100" stroke="#f29100">35</text>
<text class="wd" transform="translate(6 731.75) scale(.84 1)">J</text><text class="dn" transform="translate(17.9 731.75) scale(0.93 1)" x="-5.97 -0.27" fill="#f29100" stroke="#f29100">30</text><text class="doy" x="25.6" y="725.75">243-123</text><text class="st" x="25.6" y="731.65">S. Fiacre</text>
<text class="wd" transform="translate(6 746.03) scale(.84 1)">V</text><text class="dn" transform="translate(17.9 746.03) scale(0.93 1)" x="-6.05 -0.35" fill="#f29100" stroke="#f29100">31</text><text class="doy" x="25.6" y="740.03">244-122</text><text class="st" x="25.6" y="745.93">S. Aristide<tspan class="mn" dx="1.6" fill="#8a8a8a" font-size="4.2">○</tspan></text>
<rect x="-4.9" y="306.13" width="1.6" height="442.68" fill="#1e9ee0"/>
<rect x="-3.25" y="306.13" width="1.6" height="442.68" fill="#e2001a"/>
<rect x="-1.6" y="306.13" width="1.6" height="442.68" fill="#1a9a4c"/>
</g>
<g id="m9" transform="translate(789.62 0)">
<path d="M0 219.6V202.6a8 8 0 0 1 8 -8H72.7a8 8 0 0 1 8 8V219.6Z" fill="#a23c16"/>
<text class="mh" x="1.41" y="212.8" textLength="76.94" lengthAdjust="spacingAndGlyphs">septembre</text>
<rect x="0" y="219.6" width="80.7" height="29.41" fill="url(#g8)"/>
<path d="M0 748.8H80.7V754.3a8 8 0 0 1 -8 8H8a8 8 0 0 1 -8 -8Z" fill="#a23c16"/>
<rect x="0" y="263.29" width="80.7" height="14.28" fill="#dbb59f"/>
<rect x="0" y="363.25" width="80.7" height="14.28" fill="#dbb59f"/>
<rect x="0" y="463.21" width="80.7" height="14.28" fill="#dbb59f"/>
<rect x="0" y="563.17" width="80.7" height="14.28" fill="#dbb59f"/>
<rect x="0" y="663.13" width="80.7" height="14.28" fill="#dbb59f"/>
<line class="ln" x1="0" x2="80.7" y1="249.01" y2="249.01"/>
<line class="ls" x1="0" x2="80.7" y1="263.29" y2="263.29"/>
<line class="ls" x1="0" x2="80.7" y1="277.57" y2="277.57"/>
<line class="ln" x1="0" x2="80.7" y1="291.85" y2="291.85"/>
<line class="ln" x1="0" x2="80.7" y1="306.13" y2="306.13"/>
<line class="ln" x1="0" x2="58.6" y1="320.41" y2="320.41"/>
<line class="ln" x1="0" x2="80.7" y1="334.69" y2="334.69"/>
<line class="ln" x1="0" x2="80.7" y1="348.97" y2="348.97"/>
<line class="ls" x1="0" x2="80.7" y1="363.25" y2="363.25"/>
<line class="ls" x1="0" x2="80.7" y1="377.53" y2="377.53"/>
<line class="ln" x1="0" x2="80.7" y1="391.81" y2="391.81"/>
<line class="ln" x1="0" x2="80.7" y1="406.09" y2="406.09"/>
<line class="ln" x1="0" x2="58.6" y1="420.37" y2="420.37"/>
<line class="ln" x1="0" x2="80.7" y1="434.65" y2="434.65"/>
<line class="ln" x1="0" x2="80.7" y1="448.93" y2="448.93"/>
<line class="ls" x1="0" x2="80.7" y1="463.21" y2="463.21"/>
<line class="ls" x1="0" x2="80.7" y1="477.49" y2="477.49"/>
<line class="ln" x1="0" x2="80.7" y1="491.77" y2="491.77"/>
<line class="ln" x1="0" x2="80.7" y1="506.05" y2="506.05"/>
<line class="ln" x1="0" x2="58.6" y1="520.33" y2="520.33"/>
<line class="ln" x1="0" x2="80.7" y1="534.61" y2="534.61"/>
<line class="ln" x1="0" x2="80.7" y1="548.89" y2="548.89"/>
<line class="ls" x1="0" x2="80.7" y1="563.17" y2="563.17"/>
<line class="ls" x1="0" x2="80.7" y1="577.45" y2="577.45"/>
<line class="ln" x1="0" x2="80.7" y1="591.73" y2="591.73"/>
<line class="ln" x1="0" x2="80.7" y1="606.01" y2="606.01"/>
<line class="ln" x1="0" x2="58.6" y1="620.29" y2="620.29"/>
<line class="ln" x1="0" x2="80.7" y1="634.57" y2="634.57"/>
<line class="ln" x1="0" x2="80.7" y1="648.85" y2="648.85"/>
<line class="ls" x1="0" x2="80.7" y1="663.13" y2="663.13"/>
<line class="ls" x1="0" x2="80.7" y1="677.41" y2="677.41"/>
<line class="ln" x1="0" x2="80.7" y1="691.69" y2="691.69"/>
<line class="ln" x1="0" x2="80.7" y1="705.97" y2="705.97"/>
<line class="ln" x1="0" x2="80.7" y1="720.25" y2="720.25"/>
<line class="ln" x1="0" x2="80.7" y1="734.53" y2="734.53"/>
<text class="wd" transform="translate(6 260.51) scale(.84 1)">S</text><text class="dn" transform="translate(18.05 260.51) scale(0.93 1)" x="-3.43" fill="#a23c16" stroke="#a23c16">1</text><text class="doy" x="25.6" y="254.51">245-121</text><text class="st" x="25.6" y="260.41">S. Gilles</text>
<text class="wd" transform="translate(6 274.79) scale(.84 1)">D</text><text class="dn" transform="translate(18.05 274.79) scale(0.93 1)" x="-3.19" fill="#e2001a" stroke="#e2001a">2</text><text class="doy" x="25.6" y="268.79">246-120</text><text class="st" x="25.6" y="274.69">Ste Ingrid</text>
<text class="wd" transform="translate(6 289.07) scale(.84 1)">L</text><text class="dn" transform="translate(18.05 289.07) scale(0.93 1)" x="-3.15" fill="#a23c16" stroke="#a23c16">3</text><text class="doy" x="25.6" y="283.07">247-119</text><text class="st" x="25.6" y="288.97">S. Grégoire</text>
<text class="wd" transform="translate(6 303.35) scale(.84 1)">M</text><text class="dn" transform="translate(18.05 303.35) scale(0.93 1)" x="-3.28" fill="#a23c16" stroke="#a23c16">4</text><text class="doy" x="25.6" y="297.35">248-118</text><text class="st" x="25.6" y="303.25">Ste Rosalie</text>
<text class="wd" transform="translate(6 317.63) scale(.84 1)">M</text><text class="dn" transform="translate(18.05 317.63) scale(0.93 1)" x="-3.24" fill="#a23c16" stroke="#a23c16">5</text><text class="doy" x="25.6" y="311.63">249-117</text><text class="st" x="25.6" y="317.53">Ste Raïssa</text>
<text class="wk" x="60.34 69.04" y="326.81" fill="#a23c16" stroke="#a23c16">36</text>
<text class="wd" transform="translate(6 331.91) scale(.84 1)">J</text><text class="dn" transform="translate(18.05 331.91) scale(0.93 1)" x="-3.23" fill="#a23c16" stroke="#a23c16">6</text><text class="doy" x="25.6" y="325.91">250-116</text><text class="st" x="25.6" y="331.81">S. Bertrand</text>
<text class="wd" transform="translate(6 346.19) scale(.84 1)">V</text><text class="dn" transform="translate(18.05 346.19) scale(0.93 1)" x="-3.22" fill="#a23c16" stroke="#a23c16">7</text><text class="doy" x="25.6" y="340.19">251-115</text><text class="st" x="25.6" y="346.09">Ste Reine</text>
<text class="wd" transform="translate(6 360.47) scale(.84 1)">S</text><text class="dn" transform="translate(18.05 360.47) scale(0.93 1)" x="-3.23" fill="#a23c16" stroke="#a23c16">8</text><text class="doy" x="25.6" y="354.47">252-114</text><text class="st" x="25.6" y="360.37">Nativité de N.-D.<tspan class="mn" dx="1.6" fill="#8a8a8a" font-size="4.4">☾</tspan></text>
<text class="wd" transform="translate(6 374.75) scale(.84 1)">D</text><text class="dn" transform="translate(18.05 374.75) scale(0.93 1)" x="-3.21" fill="#e2001a" stroke="#e2001a">9</text><text class="doy" x="25.6" y="368.75">253-113</text><text class="st" x="25.6" y="374.65">S. Alain</text>
<text class="wd" transform="translate(6 389.03) scale(.84 1)">L</text><text class="dn" transform="translate(17.9 389.03) scale(0.93 1)" x="-6.20 -0.50" fill="#a23c16" stroke="#a23c16">10</text><text class="doy" x="25.6" y="383.03">254-112</text><text class="st" x="25.6" y="388.93">Ste Inès</text>
<text class="wd" transform="translate(6 403.31) scale(.84 1)">M</text><text class="dn" transform="translate(17.9 403.31) scale(0.93 1)" x="-6.28 -0.58" fill="#a23c16" stroke="#a23c16">11</text><text class="doy" x="25.6" y="397.31">255-111</text><text class="st" x="25.6" y="403.21">S. Adelphe</text>
<text class="wd" transform="translate(6 417.59) scale(.84 1)">M</text><text class="dn" transform="translate(17.9 417.59) scale(0.93 1)" x="-6.21 -0.51" fill="#a23c16" stroke="#a23c16">12</text><text class="doy" x="25.6" y="411.59">256-110</text><text class="st" x="25.6" y="417.49">S. Apollinaire</text>
<text class="wk" x="60.49 69.46" y="426.77" fill="#a23c16" stroke="#a23c16">37</text>
<text class="wd" transform="translate(6 431.87) scale(.84 1)">J</text><text class="dn" transform="translate(17.9 431.87) scale(0.93 1)" x="-6.23 -0.53" fill="#a23c16" stroke="#a23c16">13</text><text class="doy" x="25.6" y="425.87">257-109</text><text class="st" x="25.6" y="431.77">S. Aimé</text>
<text class="wd" transform="translate(6 446.15) scale(.84 1)">V</text><text class="dn" transform="translate(17.9 446.15) scale(0.93 1)" x="-6.41 -0.71" fill="#a23c16" stroke="#a23c16">14</text><text class="doy" x="25.6" y="440.15">258-108</text><text class="st" x="25.6" y="446.05">La Ste Croix</text>
<text class="wd" transform="translate(6 460.43) scale(.84 1)">S</text><text class="dn" transform="translate(17.9 460.43) scale(0.93 1)" x="-6.28 -0.58" fill="#a23c16" stroke="#a23c16">15</text><text class="doy" x="25.6" y="454.43">259-107</text><text class="st" x="25.6" y="460.33">S. Roland</text>
<text class="wd" transform="translate(6 474.71) scale(.84 1)">D</text><text class="dn" transform="translate(17.9 474.71) scale(0.93 1)" x="-6.23 -0.53" fill="#e2001a" stroke="#e2001a">16</text><text class="doy" x="25.6" y="468.71">260-106</text><text class="st" x="25.6" y="474.61">Ste Edith<tspan class="mn" dx="1.6" fill="#111" font-size="4.2">●</tspan></text>
<text class="wd" transform="translate(6 488.99) scale(.84 1)">L</text><text class="dn" transform="translate(17.9 488.99) scale(0.93 1)" x="-6.19 -0.49" fill="#a23c16" stroke="#a23c16">17</text><text class="doy" x="25.6" y="482.99">261-105</text><text class="st" x="25.6" y="488.89">S. Renaud</text>
<text class="wd" transform="translate(6 503.27) scale(.84 1)">M</text><text class="dn" transform="translate(17.9 503.27) scale(0.93 1)" x="-6.26 -0.56" fill="#a23c16" stroke="#a23c16">18</text><text class="doy" x="25.6" y="497.27">262-104</text><text class="st" x="25.6" y="503.17">Ste Nadège</text>
<text class="wd" transform="translate(6 517.55) scale(.84 1)">M</text><text class="dn" transform="translate(17.9 517.55) scale(0.93 1)" x="-6.23 -0.53" fill="#a23c16" stroke="#a23c16">19</text><text class="doy" x="25.6" y="511.55">263-103</text><text class="st" x="25.6" y="517.45">Ste Emilie</text>
<text class="wk" x="60.43 69.17" y="526.73" fill="#a23c16" stroke="#a23c16">38</text>
<text class="wd" transform="translate(6 531.83) scale(.84 1)">J</text><text class="dn" transform="translate(17.9 531.83) scale(0.93 1)" x="-6.04 -0.34" fill="#a23c16" stroke="#a23c16">20</text><text class="doy" x="25.6" y="525.83">264-102</text><text class="st" x="25.6" y="531.73">S. Davy</text>
<text class="wd" transform="translate(6 546.11) scale(.84 1)">V</text><text class="dn" transform="translate(17.9 546.11) scale(0.93 1)" x="-6.12 -0.41" fill="#a23c16" stroke="#a23c16">21</text><text class="doy" x="25.6" y="540.11">265-101</text><text class="st" x="25.6" y="546.01">S. Matthieu</text>
<text class="wd" transform="translate(6 560.39) scale(.84 1)">S</text><text class="dn" transform="translate(17.9 560.39) scale(0.93 1)" x="-6.05 -0.34" fill="#a23c16" stroke="#a23c16">22</text><text class="doy" x="25.6" y="554.39">266-100</text><text class="st" x="25.6" y="560.29">AUTOMNE<tspan class="mn" dx="1.6" fill="#8a8a8a" font-size="4.4">☽</tspan></text>
<text class="wd" transform="translate(6 574.67) scale(.84 1)">D</text><text class="dn" transform="translate(17.9 574.67) scale(0.93 1)" x="-6.07 -0.37" fill="#e2001a" stroke="#e2001a">23</text><text class="doy" x="25.6" y="568.67">267-099</text><text class="st" x="25.6" y="574.57">S. Constant</text>
<text class="wd" transform="translate(6 588.95) scale(.84 1)">L</text><text class="dn" transform="translate(17.9 588.95) scale(0.93 1)" x="-6.25 -0.54" fill="#a23c16" stroke="#a23c16">24</text><text class="doy" x="25.6" y="582.95">268-098</text><text class="st" x="25.6" y="588.85">Ste Thècle</text>
<text class="wd" transform="translate(6 603.23) scale(.84 1)">M</text><text class="dn" transform="translate(17.9 603.23) scale(0.93 1)" x="-6.12 -0.41" fill="#a23c16" stroke="#a23c16">25</text><text class="doy" x="25.6" y="597.23">269-097</text><text class="st" x="25.6" y="603.13">S. Hermann</text>
<text class="wd" transform="translate(6 617.51) scale(.84 1)">M</text><text class="dn" transform="translate(17.9 617.51) scale(0.93 1)" x="-6.07 -0.37" fill="#a23c16" stroke="#a23c16">26</text><text class="doy" x="25.6" y="611.51">270-096</text><text class="st" x="25.6" y="617.41">SS. Côme, Damien</text>
<text class="wk" x="60.34 69.04" y="626.69" fill="#a23c16" stroke="#a23c16">39</text>
<text class="wd" transform="translate(6 631.79) scale(.84 1)">J</text><text class="dn" transform="translate(17.9 631.79) scale(0.93 1)" x="-6.02 -0.32" fill="#a23c16" stroke="#a23c16">27</text><text class="doy" x="25.6" y="625.79">271-095</text><text class="st" x="25.6" y="631.69">S. Vinc. de Paul</text>
<text class="wd" transform="translate(6 646.07) scale(.84 1)">V</text><text class="dn" transform="translate(17.9 646.07) scale(0.93 1)" x="-6.10 -0.40" fill="#a23c16" stroke="#a23c16">28</text><text class="doy" x="25.6" y="640.07">272-094</text><text class="st" x="25.6" y="645.97">S. Venceslas</text>
<text class="wd" transform="translate(6 660.35) scale(.84 1)">S</text><text class="dn" transform="translate(17.9 660.35) scale(0.93 1)" x="-6.06 -0.36" fill="#a23c16" stroke="#a23c16">29</text><text class="doy" x="25.6" y="654.35">273-093</text><text class="st" x="25.6" y="660.25">S. Michel</text>
<text class="wd" transform="translate(6 674.63) scale(.84 1)">D</text><text class="dn" transform="translate(17.9 674.63) scale(0.93 1)" x="-5.97 -0.27" fill="#e2001a" stroke="#e2001a">30</text><text class="doy" x="25.6" y="668.63">274-092</text><text class="st" x="25.6" y="674.53">S. Jérôme<tspan class="mn" dx="1.6" fill="#8a8a8a" font-size="4.2">○</tspan></text>
<rect x="-4.9" y="249.01" width="1.6" height="42.84" fill="#1e9ee0"/>
<rect x="-3.25" y="249.01" width="1.6" height="42.84" fill="#e2001a"/>
<rect x="-1.6" y="249.01" width="1.6" height="42.84" fill="#1a9a4c"/>
</g>
<g id="m10" transform="translate(883.76 0)">
<path d="M0 219.6V202.6a8 8 0 0 1 8 -8H72.7a8 8 0 0 1 8 8V219.6Z" fill="#b1005b"/>
<text class="mh" x="13.32" y="212.8" textLength="53.98" lengthAdjust="spacingAndGlyphs">octobre</text>
<rect x="0" y="219.6" width="80.7" height="57.97" fill="url(#g9)"/>
<path d="M0 748.8H80.7V754.3a8 8 0 0 1 -8 8H8a8 8 0 0 1 -8 -8Z" fill="#b1005b"/>
<rect x="0" y="363.25" width="80.7" height="14.28" fill="#e6b5c6"/>
<rect x="0" y="463.21" width="80.7" height="14.28" fill="#e6b5c6"/>
<rect x="0" y="563.17" width="80.7" height="14.28" fill="#e6b5c6"/>
<rect x="0" y="663.13" width="80.7" height="14.28" fill="#e6b5c6"/>
<line class="ln" x1="0" x2="80.7" y1="277.57" y2="277.57"/>
<line class="ln" x1="0" x2="80.7" y1="291.85" y2="291.85"/>
<line class="ln" x1="0" x2="80.7" y1="306.13" y2="306.13"/>
<line class="ln" x1="0" x2="58.6" y1="320.41" y2="320.41"/>
<line class="ln" x1="0" x2="80.7" y1="334.69" y2="334.69"/>
<line class="ln" x1="0" x2="80.7" y1="348.97" y2="348.97"/>
<line class="ls" x1="0" x2="80.7" y1="363.25" y2="363.25"/>
<line class="ls" x1="0" x2="80.7" y1="377.53" y2="377.53"/>
<line class="ln" x1="0" x2="80.7" y1="391.81" y2="391.81"/>
<line class="ln" x1="0" x2="80.7" y1="406.09" y2="406.09"/>
<line class="ln" x1="0" x2="58.6" y1="420.37" y2="420.37"/>
<line class="ln" x1="0" x2="80.7" y1="434.65" y2="434.65"/>
<line class="ln" x1="0" x2="80.7" y1="448.93" y2="448.93"/>
<line class="ls" x1="0" x2="80.7" y1="463.21" y2="463.21"/>
<line class="ls" x1="0" x2="80.7" y1="477.49" y2="477.49"/>
<line class="ln" x1="0" x2="80.7" y1="491.77" y2="491.77"/>
<line class="ln" x1="0" x2="80.7" y1="506.05" y2="506.05"/>
<line class="ln" x1="0" x2="58.6" y1="520.33" y2="520.33"/>
<line class="ln" x1="0" x2="80.7" y1="534.61" y2="534.61"/>
<line class="ln" x1="0" x2="80.7" y1="548.89" y2="548.89"/>
<line class="ls" x1="0" x2="80.7" y1="563.17" y2="563.17"/>
<line class="ls" x1="0" x2="80.7" y1="577.45" y2="577.45"/>
<line class="ln" x1="0" x2="80.7" y1="591.73" y2="591.73"/>
<line class="ln" x1="0" x2="80.7" y1="606.01" y2="606.01"/>
<line class="ln" x1="0" x2="58.6" y1="620.29" y2="620.29"/>
<line class="ln" x1="0" x2="80.7" y1="634.57" y2="634.57"/>
<line class="ln" x1="0" x2="80.7" y1="648.85" y2="648.85"/>
<line class="ls" x1="0" x2="80.7" y1="663.13" y2="663.13"/>
<line class="ls" x1="0" x2="80.7" y1="677.41" y2="677.41"/>
<line class="ln" x1="0" x2="80.7" y1="691.69" y2="691.69"/>
<line class="ln" x1="0" x2="80.7" y1="705.97" y2="705.97"/>
<line class="ln" x1="0" x2="80.7" y1="720.25" y2="720.25"/>
<line class="ln" x1="0" x2="80.7" y1="734.53" y2="734.53"/>
<text class="wd" transform="translate(6 289.07) scale(.84 1)">L</text><text class="dn" transform="translate(18.05 289.07) scale(0.93 1)" x="-3.43" fill="#b1005b" stroke="#b1005b">1</text><text class="doy" x="25.6" y="283.07">275-091</text><text class="st" x="25.6" y="288.97">Ste Th. de l'E.-J.</text>
<text class="wd" transform="translate(6 303.35) scale(.84 1)">M</text><text class="dn" transform="translate(18.05 303.35) scale(0.93 1)" x="-3.19" fill="#b1005b" stroke="#b1005b">2</text><text class="doy" x="25.6" y="297.35">276-090</text><text class="st" x="25.6" y="303.25">S. Léger</text>
<text class="wd" transform="translate(6 317.63) scale(.84 1)">M</text><text class="dn" transform="translate(18.05 317.63) scale(0.93 1)" x="-3.15" fill="#b1005b" stroke="#b1005b">3</text><text class="doy" x="25.6" y="311.63">277-089</text><text class="st" x="25.6" y="317.53">S. Gérard</text>
<text class="wk" x="59.87 69.14" y="326.81" fill="#b1005b" stroke="#b1005b">40</text>
<text class="wd" transform="translate(6 331.91) scale(.84 1)">J</text><text class="dn" transform="translate(18.05 331.91) scale(0.93 1)" x="-3.28" fill="#b1005b" stroke="#b1005b">4</text><text class="doy" x="25.6" y="325.91">278-088</text><text class="st" x="25.6" y="331.81">S. Fr. d'Assise</text>
<text class="wd" transform="translate(6 346.19) scale(.84 1)">V</text><text class="dn" transform="translate(18.05 346.19) scale(0.93 1)" x="-3.24" fill="#b1005b" stroke="#b1005b">5</text><text class="doy" x="25.6" y="340.19">279-087</text><text class="st" x="25.6" y="346.09">Ste Fleur</text>
<text class="wd" transform="translate(6 360.47) scale(.84 1)">S</text><text class="dn" transform="translate(18.05 360.47) scale(0.93 1)" x="-3.23" fill="#b1005b" stroke="#b1005b">6</text><text class="doy" x="25.6" y="354.47">280-086</text><text class="st" x="25.6" y="360.37">S. Bruno</text>
<text class="wd" transform="translate(6 374.75) scale(.84 1)">D</text><text class="dn" transform="translate(18.05 374.75) scale(0.93 1)" x="-3.22" fill="#e2001a" stroke="#e2001a">7</text><text class="doy" x="25.6" y="368.75">281-085</text><text class="st" x="25.6" y="374.65">S. Serge</text>
<text class="wd" transform="translate(6 389.03) scale(.84 1)">L</text><text class="dn" transform="translate(18.05 389.03) scale(0.93 1)" x="-3.23" fill="#b1005b" stroke="#b1005b">8</text><text class="doy" x="25.6" y="383.03">282-084</text><text class="st" x="25.6" y="388.93">Ste Pélagie<tspan class="mn" dx="1.6" fill="#8a8a8a" font-size="4.4">☾</tspan></text>
<text class="wd" transform="translate(6 403.31) scale(.84 1)">M</text><text class="dn" transform="translate(18.05 403.31) scale(0.93 1)" x="-3.21" fill="#b1005b" stroke="#b1005b">9</text><text class="doy" x="25.6" y="397.31">283-083</text><text class="st" x="25.6" y="403.21">S. Denis</text>
<text class="wd" transform="translate(6 417.59) scale(.84 1)">M</text><text class="dn" transform="translate(17.9 417.59) scale(0.93 1)" x="-6.20 -0.50" fill="#b1005b" stroke="#b1005b">10</text><text class="doy" x="25.6" y="411.59">284-082</text><text class="st" x="25.6" y="417.49">S. Ghislain</text>
<text class="wk" x="60.65 69.56" y="426.77" fill="#b1005b" stroke="#b1005b">41</text>
<text class="wd" transform="translate(6 431.87) scale(.84 1)">J</text><text class="dn" transform="translate(17.9 431.87) scale(0.93 1)" x="-6.28 -0.58" fill="#b1005b" stroke="#b1005b">11</text><text class="doy" x="25.6" y="425.87">285-081</text><text class="st" x="25.6" y="431.77">S. Firmin</text>
<text class="wd" transform="translate(6 446.15) scale(.84 1)">V</text><text class="dn" transform="translate(17.9 446.15) scale(0.93 1)" x="-6.21 -0.51" fill="#b1005b" stroke="#b1005b">12</text><text class="doy" x="25.6" y="440.15">286-080</text><text class="st" x="25.6" y="446.05">S. Wilfrid</text>
<text class="wd" transform="translate(6 460.43) scale(.84 1)">S</text><text class="dn" transform="translate(17.9 460.43) scale(0.93 1)" x="-6.23 -0.53" fill="#b1005b" stroke="#b1005b">13</text><text class="doy" x="25.6" y="454.43">287-079</text><text class="st" x="25.6" y="460.33">S. Géraud</text>
<text class="wd" transform="translate(6 474.71) scale(.84 1)">D</text><text class="dn" transform="translate(17.9 474.71) scale(0.93 1)" x="-6.41 -0.71" fill="#e2001a" stroke="#e2001a">14</text><text class="doy" x="25.6" y="468.71">288-078</text><text class="st" x="25.6" y="474.61">S. Juste</text>
<text class="wd" transform="translate(6 488.99) scale(.84 1)">L</text><text class="dn" transform="translate(17.9 488.99) scale(0.93 1)" x="-6.28 -0.58" fill="#b1005b" stroke="#b1005b">15</text><text class="doy" x="25.6" y="482.99">289-077</text><text class="st" x="25.6" y="488.89">Ste Th. d'Avila<tspan class="mn" dx="1.6" fill="#111" font-size="4.2">●</tspan></text>
<text class="wd" transform="translate(6 503.27) scale(.84 1)">M</text><text class="dn" transform="translate(17.9 503.27) scale(0.93 1)" x="-6.23 -0.53" fill="#b1005b" stroke="#b1005b">16</text><text class="doy" x="25.6" y="497.27">290-076</text><text class="st" x="25.6" y="503.17">Ste Edwige</text>
<text class="wd" transform="translate(6 517.55) scale(.84 1)">M</text><text class="dn" transform="translate(17.9 517.55) scale(0.93 1)" x="-6.19 -0.49" fill="#b1005b" stroke="#b1005b">17</text><text class="doy" x="25.6" y="511.55">291-075</text><text class="st" x="25.6" y="517.45">S. Baudouin</text>
<text class="wk" x="59.65 69.27" y="526.73" fill="#b1005b" stroke="#b1005b">42</text>
<text class="wd" transform="translate(6 531.83) scale(.84 1)">J</text><text class="dn" transform="translate(17.9 531.83) scale(0.93 1)" x="-6.26 -0.56" fill="#b1005b" stroke="#b1005b">18</text><text class="doy" x="25.6" y="525.83">292-074</text><text class="st" x="25.6" y="531.73">S. Luc</text>
<text class="wd" transform="translate(6 546.11) scale(.84 1)">V</text><text class="dn" transform="translate(17.9 546.11) scale(0.93 1)" x="-6.23 -0.53" fill="#b1005b" stroke="#b1005b">19</text><text class="doy" x="25.6" y="540.11">293-073</text><text class="st" x="25.6" y="546.01">S. René</text>
<text class="wd" transform="translate(6 560.39) scale(.84 1)">S</text><text class="dn" transform="translate(17.9 560.39) scale(0.93 1)" x="-6.04 -0.34" fill="#b1005b" stroke="#b1005b">20</text><text class="doy" x="25.6" y="554.39">294-072</text><text class="st" x="25.6" y="560.29">Ste Adeline</text>
<text class="wd" transform="translate(6 574.67) scale(.84 1)">D</text><text class="dn" transform="translate(17.9 574.67) scale(0.93 1)" x="-6.12 -0.41" fill="#e2001a" stroke="#e2001a">21</text><text class="doy" x="25.6" y="568.67">295-071</text><text class="st" x="25.6" y="574.57">Ste Céline</text>
<text class="wd" transform="translate(6 588.95) scale(.84 1)">L</text><text class="dn" transform="translate(17.9 588.95) scale(0.93 1)" x="-6.05 -0.34" fill="#b1005b" stroke="#b1005b">22</text><text class="doy" x="25.6" y="582.95">296-070</text><text class="st" x="25.6" y="588.85">Ste Elodie<tspan class="mn" dx="1.6" fill="#8a8a8a" font-size="4.4">☽</tspan></text>
<text class="wd" transform="translate(6 603.23) scale(.84 1)">M</text><text class="dn" transform="translate(17.9 603.23) scale(0.93 1)" x="-6.07 -0.37" fill="#b1005b" stroke="#b1005b">23</text><text class="doy" x="25.6" y="597.23">297-069</text><text class="st" x="25.6" y="603.13">S. J. de Capistran</text>
<text class="wd" transform="translate(6 617.51) scale(.84 1)">M</text><text class="dn" transform="translate(17.9 617.51) scale(0.93 1)" x="-6.25 -0.54" fill="#b1005b" stroke="#b1005b">24</text><text class="doy" x="25.6" y="611.51">298-068</text><text class="st" x="25.6" y="617.41">S. Florentin</text>
<text class="wk" x="59.85 69.35" y="626.69" fill="#b1005b" stroke="#b1005b">43</text>
<text class="wd" transform="translate(6 631.79) scale(.84 1)">J</text><text class="dn" transform="translate(17.9 631.79) scale(0.93 1)" x="-6.12 -0.41" fill="#b1005b" stroke="#b1005b">25</text><text class="doy" x="25.6" y="625.79">299-067</text><text class="st" x="25.6" y="631.69">S. Crépin</text>
<text class="wd" transform="translate(6 646.07) scale(.84 1)">V</text><text class="dn" transform="translate(17.9 646.07) scale(0.93 1)" x="-6.07 -0.37" fill="#b1005b" stroke="#b1005b">26</text><text class="doy" x="25.6" y="640.07">300-066</text><text class="st" x="25.6" y="645.97">S. Dimitri</text>
<text class="wd" transform="translate(6 660.35) scale(.84 1)">S</text><text class="dn" transform="translate(17.9 660.35) scale(0.93 1)" x="-6.02 -0.32" fill="#b1005b" stroke="#b1005b">27</text><text class="doy" x="25.6" y="654.35">301-065</text><text class="st" x="25.6" y="660.25">Ste Emeline</text>
<text class="wd" transform="translate(6 674.63) scale(.84 1)">D</text><text class="dn" transform="translate(17.9 674.63) scale(0.93 1)" x="-6.10 -0.40" fill="#e2001a" stroke="#e2001a">28</text><text class="doy" x="25.6" y="668.63">302-064</text><text class="st" x="25.6" y="674.53">SS. Simon, Jude</text>
<text class="wd" transform="translate(6 688.91) scale(.84 1)">L</text><text class="dn" transform="translate(17.9 688.91) scale(0.93 1)" x="-6.06 -0.36" fill="#b1005b" stroke="#b1005b">29</text><text class="doy" x="25.6" y="682.91">303-063</text><text class="st" x="25.6" y="688.81">S. Narcisse<tspan class="mn" dx="1.6" fill="#8a8a8a" font-size="4.2">○</tspan></text>
<text class="wd" transform="translate(6 703.19) scale(.84 1)">M</text><text class="dn" transform="translate(17.9 703.19) scale(0.93 1)" x="-5.97 -0.27" fill="#b1005b" stroke="#b1005b">30</text><text class="doy" x="25.6" y="697.19">304-062</text><text class="st" x="25.6" y="703.09">Ste Bienvenue</text>
<text class="wd" transform="translate(6 717.47) scale(.84 1)">M</text><text class="dn" transform="translate(17.9 717.47) scale(0.93 1)" x="-6.05 -0.35" fill="#b1005b" stroke="#b1005b">31</text><text class="doy" x="25.6" y="711.47">305-061</text><text class="st" x="25.6" y="717.37">S. Quentin</text>
<rect x="-4.9" y="655.99" width="1.6" height="64.26" fill="#1e9ee0"/>
<rect x="-3.25" y="655.99" width="1.6" height="64.26" fill="#e2001a"/>
<rect x="-1.6" y="655.99" width="1.6" height="64.26" fill="#1a9a4c"/>
<g transform="translate(69.9 663.53)"><circle r="6" fill="#fff" stroke="#3a3a3a" stroke-width=".8"/><path d="M.3 -3.6L.9 -1.2L1.7 -2.6" fill="none" stroke="#444" stroke-width=".7"/><path d="M-1.6 2.6h1.2M.9 1.4v2.6" stroke="#444" stroke-width=".8"/></g>
</g>
<g id="m11" transform="translate(977.90 0)">
<path d="M0 219.6V202.6a8 8 0 0 1 8 -8H72.7a8 8 0 0 1 8 8V219.6Z" fill="#6e0f5e"/>
<text class="mh" x="2.33" y="212.8" textLength="74.88" lengthAdjust="spacingAndGlyphs">novembre</text>
<path d="M0 748.8H80.7V754.3a8 8 0 0 1 -8 8H8a8 8 0 0 1 -8 -8Z" fill="#6e0f5e"/>
<rect x="0" y="263.29" width="80.7" height="14.28" fill="#cdb3d0"/>
<rect x="0" y="363.25" width="80.7" height="14.28" fill="#cdb3d0"/>
<rect x="0" y="463.21" width="80.7" height="14.28" fill="#cdb3d0"/>
<rect x="0" y="563.17" width="80.7" height="14.28" fill="#cdb3d0"/>
<line class="ln" x1="0" x2="58.6" y1="234.73" y2="234.73"/>
<line class="ln" x1="0" x2="80.7" y1="249.01" y2="249.01"/>
<line class="ls" x1="0" x2="80.7" y1="263.29" y2="263.29"/>
<line class="ls" x1="0" x2="80.7" y1="277.57" y2="277.57"/>
<line class="ln" x1="0" x2="80.7" y1="291.85" y2="291.85"/>
<line class="ln" x1="0" x2="80.7" y1="306.13" y2="306.13"/>
<line class="ln" x1="0" x2="58.6" y1="320.41" y2="320.41"/>
<line class="ln" x1="0" x2="80.7" y1="334.69" y2="334.69"/>
<line class="ln" x1="0" x2="80.7" y1="348.97" y2="348.97"/>
<line class="ls" x1="0" x2="80.7" y1="363.25" y2="363.25"/>
<line class="ls" x1="0" x2="80.7" y1="377.53" y2="377.53"/>
<line class="ln" x1="0" x2="80.7" y1="391.81" y2="391.81"/>
<line class="ln" x1="0" x2="80.7" y1="406.09" y2="406.09"/>
<line class="ln" x1="0" x2="58.6" y1="420.37" y2="420.37"/>
<line class="ln" x1="0" x2="80.7" y1="434.65" y2="434.65"/>
<line class="ln" x1="0" x2="80.7" y1="448.93" y2="448.93"/>
<line class="ls" x1="0" x2="80.7" y1="463.21" y2="463.21"/>
<line class="ls" x1="0" x2="80.7" y1="477.49" y2="477.49"/>
<line class="ln" x1="0" x2="80.7" y1="491.77" y2="491.77"/>
<line class="ln" x1="0" x2="80.7" y1="506.05" y2="506.05"/>
<line class="ln" x1="0" x2="58.6" y1="520.33" y2="520.33"/>
<line class="ln" x1="0" x2="80.7" y1="534.61" y2="534.61"/>
<line class="ln" x1="0" x2="80.7" y1="548.89" y2="548.89"/>
<line class="ls" x1="0" x2="80.7" y1="563.17" y2="563.17"/>
<line class="ls" x1="0" x2="80.7" y1="577.45" y2="577.45"/>
<line class="ln" x1="0" x2="80.7" y1="591.73" y2="591.73"/>
<line class="ln" x1="0" x2="80.7" y1="606.01" y2="606.01"/>
<line class="ln" x1="0" x2="58.6" y1="620.29" y2="620.29"/>
<line class="ln" x1="0" x2="80.7" y1="634.57" y2="634.57"/>
<line class="ln" x1="0" x2="80.7" y1="648.85" y2="648.85"/>
<line class="ln" x1="0" x2="80.7" y1="663.13" y2="663.13"/>
<line class="ln" x1="0" x2="80.7" y1="677.41" y2="677.41"/>
<line class="ln" x1="0" x2="80.7" y1="691.69" y2="691.69"/>
<line class="ln" x1="0" x2="80.7" y1="705.97" y2="705.97"/>
<line class="ln" x1="0" x2="80.7" y1="720.25" y2="720.25"/>
<line class="ln" x1="0" x2="80.7" y1="734.53" y2="734.53"/>
<text class="wd" transform="translate(6 231.95) scale(.84 1)">J</text><text class="dn" transform="translate(18.05 231.95) scale(0.93 1)" x="-3.43" fill="#e2001a" stroke="#e2001a">1</text><text class="doy" x="25.6" y="225.95">306-060</text><text class="bg" x="25.5" y="232.05">TOUSSAINT</text>
<text class="wk" x="58.94 68.92" y="241.13" fill="#6e0f5e" stroke="#6e0f5e">44</text>
<text class="wd" transform="translate(6 246.23) scale(.84 1)">V</text><text class="dn" transform="translate(18.05 246.23) scale(0.93 1)" x="-3.19" fill="#6e0f5e" stroke="#6e0f5e">2</text><text class="doy" x="25.6" y="240.23">307-059</text><text class="st" x="25.6" y="246.13">Jour des défunts</text>
<text class="wd" transform="translate(6 260.51) scale(.84 1)">S</text><text class="dn" transform="translate(18.05 260.51) scale(0.93 1)" x="-3.15" fill="#6e0f5e" stroke="#6e0f5e">3</text><text class="doy" x="25.6" y="254.51">308-058</text><text class="st" x="25.6" y="260.41">S. Hubert</text>
<text class="wd" transform="translate(6 274.79) scale(.84 1)">D</text><text class="dn" transform="translate(18.05 274.79) scale(0.93 1)" x="-3.28" fill="#e2001a" stroke="#e2001a">4</text><text class="doy" x="25.6" y="268.79">309-057</text><text class="st" x="25.6" y="274.69">S. Charles</text>
<text class="wd" transform="translate(6 289.07) scale(.84 1)">L</text><text class="dn" transform="translate(18.05 289.07) scale(0.93 1)" x="-3.24" fill="#6e0f5e" stroke="#6e0f5e">5</text><text class="doy" x="25.6" y="283.07">310-056</text><text class="st" x="25.6" y="288.97">Ste Sylvie</text>
<text class="wd" transform="translate(6 303.35) scale(.84 1)">M</text><text class="dn" transform="translate(18.05 303.35) scale(0.93 1)" x="-3.23" fill="#6e0f5e" stroke="#6e0f5e">6</text><text class="doy" x="25.6" y="297.35">311-055</text><text class="st" x="25.6" y="303.25">Ste Bertille</text>
<text class="wd" transform="translate(6 317.63) scale(.84 1)">M</text><text class="dn" transform="translate(18.05 317.63) scale(0.93 1)" x="-3.22" fill="#6e0f5e" stroke="#6e0f5e">7</text><text class="doy" x="25.6" y="311.63">312-054</text><text class="st" x="25.6" y="317.53">Ste Carine<tspan class="mn" dx="1.6" fill="#8a8a8a" font-size="4.4">☾</tspan></text>
<text class="wk" x="60.36 69.46" y="326.81" fill="#6e0f5e" stroke="#6e0f5e">45</text>
<text class="wd" transform="translate(6 331.91) scale(.84 1)">J</text><text class="dn" transform="translate(18.05 331.91) scale(0.93 1)" x="-3.23" fill="#6e0f5e" stroke="#6e0f5e">8</text><text class="doy" x="25.6" y="325.91">313-053</text><text class="st" x="25.6" y="331.81">S. Geoffroy</text>
<text class="wd" transform="translate(6 346.19) scale(.84 1)">V</text><text class="dn" transform="translate(18.05 346.19) scale(0.93 1)" x="-3.21" fill="#6e0f5e" stroke="#6e0f5e">9</text><text class="doy" x="25.6" y="340.19">314-052</text><text class="st" x="25.6" y="346.09">S. Théodore</text>
<text class="wd" transform="translate(6 360.47) scale(.84 1)">S</text><text class="dn" transform="translate(17.9 360.47) scale(0.93 1)" x="-6.20 -0.50" fill="#6e0f5e" stroke="#6e0f5e">10</text><text class="doy" x="25.6" y="354.47">315-051</text><text class="st" x="25.6" y="360.37">S. Léon</text>
<text class="wd" transform="translate(6 374.75) scale(.84 1)">D</text><text class="dn" transform="translate(17.9 374.75) scale(0.93 1)" x="-6.28 -0.58" fill="#e2001a" stroke="#e2001a">11</text><text class="doy" x="25.6" y="368.75">316-050</text><text class="bg" x="25.5" y="374.85">ARMISTICE 1918</text>
<text class="wd" transform="translate(6 389.03) scale(.84 1)">L</text><text class="dn" transform="translate(17.9 389.03) scale(0.93 1)" x="-6.21 -0.51" fill="#6e0f5e" stroke="#6e0f5e">12</text><text class="doy" x="25.6" y="383.03">317-049</text><text class="st" x="25.6" y="388.93">S. Christian</text>
<text class="wd" transform="translate(6 403.31) scale(.84 1)">M</text><text class="dn" transform="translate(17.9 403.31) scale(0.93 1)" x="-6.23 -0.53" fill="#6e0f5e" stroke="#6e0f5e">13</text><text class="doy" x="25.6" y="397.31">318-048</text><text class="st" x="25.6" y="403.21">S. Brice<tspan class="mn" dx="1.6" fill="#111" font-size="4.2">●</tspan></text>
<text class="wd" transform="translate(6 417.59) scale(.84 1)">M</text><text class="dn" transform="translate(17.9 417.59) scale(0.93 1)" x="-6.41 -0.71" fill="#6e0f5e" stroke="#6e0f5e">14</text><text class="doy" x="25.6" y="411.59">319-047</text><text class="st" x="25.6" y="417.49">S. Sidoine</text>
<text class="wk" x="59.90 69.04" y="426.77" fill="#6e0f5e" stroke="#6e0f5e">46</text>
<text class="wd" transform="translate(6 431.87) scale(.84 1)">J</text><text class="dn" transform="translate(17.9 431.87) scale(0.93 1)" x="-6.28 -0.58" fill="#6e0f5e" stroke="#6e0f5e">15</text><text class="doy" x="25.6" y="425.87">320-046</text><text class="st" x="25.6" y="431.77">S. Albert</text>
<text class="wd" transform="translate(6 446.15) scale(.84 1)">V</text><text class="dn" transform="translate(17.9 446.15) scale(0.93 1)" x="-6.23 -0.53" fill="#6e0f5e" stroke="#6e0f5e">16</text><text class="doy" x="25.6" y="440.15">321-045</text><text class="st" x="25.6" y="446.05">Ste Marguerite</text>
<text class="wd" transform="translate(6 460.43) scale(.84 1)">S</text><text class="dn" transform="translate(17.9 460.43) scale(0.93 1)" x="-6.19 -0.49" fill="#6e0f5e" stroke="#6e0f5e">17</text><text class="doy" x="25.6" y="454.43">322-044</text><text class="st" x="25.6" y="460.33">Ste Elisabeth</text>
<text class="wd" transform="translate(6 474.71) scale(.84 1)">D</text><text class="dn" transform="translate(17.9 474.71) scale(0.93 1)" x="-6.26 -0.56" fill="#e2001a" stroke="#e2001a">18</text><text class="doy" x="25.6" y="468.71">323-043</text><text class="st" x="25.6" y="474.61">Ste Aude</text>
<text class="wd" transform="translate(6 488.99) scale(.84 1)">L</text><text class="dn" transform="translate(17.9 488.99) scale(0.93 1)" x="-6.23 -0.53" fill="#6e0f5e" stroke="#6e0f5e">19</text><text class="doy" x="25.6" y="482.99">324-042</text><text class="st" x="25.6" y="488.89">S. Tanguy</text>
<text class="wd" transform="translate(6 503.27) scale(.84 1)">M</text><text class="dn" transform="translate(17.9 503.27) scale(0.93 1)" x="-6.04 -0.34" fill="#6e0f5e" stroke="#6e0f5e">20</text><text class="doy" x="25.6" y="497.27">325-041</text><text class="st" x="25.6" y="503.17">S. Edmond<tspan class="mn" dx="1.6" fill="#8a8a8a" font-size="4.4">☽</tspan></text>
<text class="wd" transform="translate(6 517.55) scale(.84 1)">M</text><text class="dn" transform="translate(17.9 517.55) scale(0.93 1)" x="-6.12 -0.41" fill="#6e0f5e" stroke="#6e0f5e">21</text><text class="doy" x="25.6" y="511.55">326-040</text><text class="st" x="25.6" y="517.45">Présentation de N.-D.</text>
<text class="wk" x="60.06 69.46" y="526.73" fill="#6e0f5e" stroke="#6e0f5e">47</text>
<text class="wd" transform="translate(6 531.83) scale(.84 1)">J</text><text class="dn" transform="translate(17.9 531.83) scale(0.93 1)" x="-6.05 -0.34" fill="#6e0f5e" stroke="#6e0f5e">22</text><text class="doy" x="25.6" y="525.83">327-039</text><text class="st" x="25.6" y="531.73">Ste Cécile</text>
<text class="wd" transform="translate(6 546.11) scale(.84 1)">V</text><text class="dn" transform="translate(17.9 546.11) scale(0.93 1)" x="-6.07 -0.37" fill="#6e0f5e" stroke="#6e0f5e">23</text><text class="doy" x="25.6" y="540.11">328-038</text><text class="st" x="25.6" y="546.01">S. Clément</text>
<text class="wd" transform="translate(6 560.39) scale(.84 1)">S</text><text class="dn" transform="translate(17.9 560.39) scale(0.93 1)" x="-6.25 -0.54" fill="#6e0f5e" stroke="#6e0f5e">24</text><text class="doy" x="25.6" y="554.39">329-037</text><text class="st" x="25.6" y="560.29">Ste Flora</text>
<text class="wd" transform="translate(6 574.67) scale(.84 1)">D</text><text class="dn" transform="translate(17.9 574.67) scale(0.93 1)" x="-6.12 -0.41" fill="#e2001a" stroke="#e2001a">25</text><text class="doy" x="25.6" y="568.67">330-036</text><text class="st" x="25.6" y="574.57">Christ Roi</text>
<text class="wd" transform="translate(6 588.95) scale(.84 1)">L</text><text class="dn" transform="translate(17.9 588.95) scale(0.93 1)" x="-6.07 -0.37" fill="#6e0f5e" stroke="#6e0f5e">26</text><text class="doy" x="25.6" y="582.95">331-035</text><text class="st" x="25.6" y="588.85">Ste Delphine</text>
<text class="wd" transform="translate(6 603.23) scale(.84 1)">M</text><text class="dn" transform="translate(17.9 603.23) scale(0.93 1)" x="-6.02 -0.32" fill="#6e0f5e" stroke="#6e0f5e">27</text><text class="doy" x="25.6" y="597.23">332-034</text><text class="st" x="25.6" y="603.13">S. Séverin</text>
<text class="wd" transform="translate(6 617.51) scale(.84 1)">M</text><text class="dn" transform="translate(17.9 617.51) scale(0.93 1)" x="-6.10 -0.40" fill="#6e0f5e" stroke="#6e0f5e">28</text><text class="doy" x="25.6" y="611.51">333-033</text><text class="st" x="25.6" y="617.41">S. Jacq. de la Marche<tspan class="mn" dx="1.6" fill="#8a8a8a" font-size="4.2">○</tspan></text>
<text class="wk" x="59.99 69.17" y="626.69" fill="#6e0f5e" stroke="#6e0f5e">48</text>
<text class="wd" transform="translate(6 631.79) scale(.84 1)">J</text><text class="dn" transform="translate(17.9 631.79) scale(0.93 1)" x="-6.06 -0.36" fill="#6e0f5e" stroke="#6e0f5e">29</text><text class="doy" x="25.6" y="625.79">334-032</text><text class="st" x="25.6" y="631.69">S. Saturnin</text>
<text class="wd" transform="translate(6 646.07) scale(.84 1)">V</text><text class="dn" transform="translate(17.9 646.07) scale(0.93 1)" x="-5.97 -0.27" fill="#6e0f5e" stroke="#6e0f5e">30</text><text class="doy" x="25.6" y="640.07">335-031</text><text class="st" x="25.6" y="645.97">S. André</text>
<rect x="-4.9" y="220.45" width="1.6" height="99.96" fill="#1e9ee0"/>
<rect x="-3.25" y="220.45" width="1.6" height="99.96" fill="#e2001a"/>
<rect x="-1.6" y="220.45" width="1.6" height="99.96" fill="#1a9a4c"/>
</g>
<g id="m12" transform="translate(1072.04 0)">
<path d="M0 219.6V202.6a8 8 0 0 1 8 -8H72.7a8 8 0 0 1 8 8V219.6Z" fill="#0a5ca8"/>
<text class="mh" x="4.63" y="212.8" textLength="71.81" lengthAdjust="spacingAndGlyphs">décembre</text>
<rect x="0" y="219.6" width="80.7" height="29.41" fill="url(#g11)"/>
<path d="M0 748.8H80.7V754.3a8 8 0 0 1 -8 8H8a8 8 0 0 1 -8 -8Z" fill="#0a5ca8"/>
<rect x="0" y="263.29" width="80.7" height="14.28" fill="#bccbe8"/>
<rect x="0" y="363.25" width="80.7" height="14.28" fill="#bccbe8"/>
<rect x="0" y="463.21" width="80.7" height="14.28" fill="#bccbe8"/>
<rect x="0" y="563.17" width="80.7" height="14.28" fill="#bccbe8"/>
<rect x="0" y="663.13" width="80.7" height="14.28" fill="#bccbe8"/>
<line class="ln" x1="0" x2="80.7" y1="249.01" y2="249.01"/>
<line class="ls" x1="0" x2="80.7" y1="263.29" y2="263.29"/>
<line class="ls" x1="0" x2="80.7" y1="277.57" y2="277.57"/>
<line class="ln" x1="0" x2="80.7" y1="291.85" y2="291.85"/>
<line class="ln" x1="0" x2="80.7" y1="306.13" y2="306.13"/>
<line class="ln" x1="0" x2="58.6" y1="320.41" y2="320.41"/>
<line class="ln" x1="0" x2="80.7" y1="334.69" y2="334.69"/>
<line class="ln" x1="0" x2="80.7" y1="348.97" y2="348.97"/>
<line class="ls" x1="0" x2="80.7" y1="363.25" y2="363.25"/>
<line class="ls" x1="0" x2="80.7" y1="377.53" y2="377.53"/>
<line class="ln" x1="0" x2="80.7" y1="391.81" y2="391.81"/>
<line class="ln" x1="0" x2="80.7" y1="406.09" y2="406.09"/>
<line class="ln" x1="0" x2="58.6" y1="420.37" y2="420.37"/>
<line class="ln" x1="0" x2="80.7" y1="434.65" y2="434.65"/>
<line class="ln" x1="0" x2="80.7" y1="448.93" y2="448.93"/>
<line class="ls" x1="0" x2="80.7" y1="463.21" y2="463.21"/>
<line class="ls" x1="0" x2="80.7" y1="477.49" y2="477.49"/>
<line class="ln" x1="0" x2="80.7" y1="491.77" y2="491.77"/>
<line class="ln" x1="0" x2="80.7" y1="506.05" y2="506.05"/>
<line class="ln" x1="0" x2="58.6" y1="520.33" y2="520.33"/>
<line class="ln" x1="0" x2="80.7" y1="534.61" y2="534.61"/>
<line class="ln" x1="0" x2="80.7" y1="548.89" y2="548.89"/>
<line class="ls" x1="0" x2="80.7" y1="563.17" y2="563.17"/>
<line class="ls" x1="0" x2="80.7" y1="577.45" y2="577.45"/>
<line class="ln" x1="0" x2="80.7" y1="591.73" y2="591.73"/>
<line class="ln" x1="0" x2="80.7" y1="606.01" y2="606.01"/>
<line class="ln" x1="0" x2="58.6" y1="620.29" y2="620.29"/>
<line class="ln" x1="0" x2="80.7" y1="634.57" y2="634.57"/>
<line class="ln" x1="0" x2="80.7" y1="648.85" y2="648.85"/>
<line class="ls" x1="0" x2="80.7" y1="663.13" y2="663.13"/>
<line class="ls" x1="0" x2="80.7" y1="677.41" y2="677.41"/>
<line class="ln" x1="0" x2="80.7" y1="691.69" y2="691.69"/>
<line class="ln" x1="0" x2="80.7" y1="705.97" y2="705.97"/>
<line class="ln" x1="0" x2="80.7" y1="720.25" y2="720.25"/>
<line class="ln" x1="0" x2="80.7" y1="734.53" y2="734.53"/>
<text class="wd" transform="translate(6 260.51) scale(.84 1)">S</text><text class="dn" transform="translate(18.05 260.51) scale(0.93 1)" x="-3.43" fill="#0a5ca8" stroke="#0a5ca8">1</text><text class="doy" x="25.6" y="254.51">336-030</text><text class="st" x="25.6" y="260.41">Ste Florence</text>
<text class="wd" transform="translate(6 274.79) scale(.84 1)">D</text><text class="dn" transform="translate(18.05 274.79) scale(0.93 1)" x="-3.19" fill="#e2001a" stroke="#e2001a">2</text><text class="doy" x="25.6" y="268.79">337-029</text><text class="st" x="25.6" y="274.69">Avent</text>
<text class="wd" transform="translate(6 289.07) scale(.84 1)">L</text><text class="dn" transform="translate(18.05 289.07) scale(0.93 1)" x="-3.15" fill="#0a5ca8" stroke="#0a5ca8">3</text><text class="doy" x="25.6" y="283.07">338-028</text><text class="st" x="25.6" y="288.97">S. François-Xavier</text>
<text class="wd" transform="translate(6 303.35) scale(.84 1)">M</text><text class="dn" transform="translate(18.05 303.35) scale(0.93 1)" x="-3.28" fill="#0a5ca8" stroke="#0a5ca8">4</text><text class="doy" x="25.6" y="297.35">339-027</text><text class="st" x="25.6" y="303.25">Ste Barbara</text>
<text class="wd" transform="translate(6 317.63) scale(.84 1)">M</text><text class="dn" transform="translate(18.05 317.63) scale(0.93 1)" x="-3.24" fill="#0a5ca8" stroke="#0a5ca8">5</text><text class="doy" x="25.6" y="311.63">340-026</text><text class="st" x="25.6" y="317.53">S. Gérald</text>
<text class="wk" x="59.90 69.04" y="326.81" fill="#0a5ca8" stroke="#0a5ca8">49</text>
<text class="wd" transform="translate(6 331.91) scale(.84 1)">J</text><text class="dn" transform="translate(18.05 331.91) scale(0.93 1)" x="-3.23" fill="#0a5ca8" stroke="#0a5ca8">6</text><text class="doy" x="25.6" y="325.91">341-025</text><text class="st" x="25.6" y="331.81">S. Nicolas<tspan class="mn" dx="1.6" fill="#8a8a8a" font-size="4.4">☾</tspan></text>
<text class="wd" transform="translate(6 346.19) scale(.84 1)">V</text><text class="dn" transform="translate(18.05 346.19) scale(0.93 1)" x="-3.22" fill="#0a5ca8" stroke="#0a5ca8">7</text><text class="doy" x="25.6" y="340.19">342-024</text><text class="st" x="25.6" y="346.09">S. Ambroise</text>
<text class="wd" transform="translate(6 360.47) scale(.84 1)">S</text><text class="dn" transform="translate(18.05 360.47) scale(0.93 1)" x="-3.23" fill="#0a5ca8" stroke="#0a5ca8">8</text><text class="doy" x="25.6" y="354.47">343-023</text><text class="st" x="25.6" y="360.37">Imm. Conception</text>
<text class="wd" transform="translate(6 374.75) scale(.84 1)">D</text><text class="dn" transform="translate(18.05 374.75) scale(0.93 1)" x="-3.21" fill="#e2001a" stroke="#e2001a">9</text><text class="doy" x="25.6" y="368.75">344-022</text><text class="st" x="25.6" y="374.65">S. P. Fourier</text>
<text class="wd" transform="translate(6 389.03) scale(.84 1)">L</text><text class="dn" transform="translate(17.9 389.03) scale(0.93 1)" x="-6.20 -0.50" fill="#0a5ca8" stroke="#0a5ca8">10</text><text class="doy" x="25.6" y="383.03">345-021</text><text class="st" x="25.6" y="388.93">S. Romaric</text>
<text class="wd" transform="translate(6 403.31) scale(.84 1)">M</text><text class="dn" transform="translate(17.9 403.31) scale(0.93 1)" x="-6.28 -0.58" fill="#0a5ca8" stroke="#0a5ca8">11</text><text class="doy" x="25.6" y="397.31">346-020</text><text class="st" x="25.6" y="403.21">S. Daniel</text>
<text class="wd" transform="translate(6 417.59) scale(.84 1)">M</text><text class="dn" transform="translate(17.9 417.59) scale(0.93 1)" x="-6.21 -0.51" fill="#0a5ca8" stroke="#0a5ca8">12</text><text class="doy" x="25.6" y="411.59">347-019</text><text class="st" x="25.6" y="417.49">Ste J.-F. de Chantal</text>
<text class="wk" x="60.42 69.14" y="426.77" fill="#0a5ca8" stroke="#0a5ca8">50</text>
<text class="wd" transform="translate(6 431.87) scale(.84 1)">J</text><text class="dn" transform="translate(17.9 431.87) scale(0.93 1)" x="-6.23 -0.53" fill="#0a5ca8" stroke="#0a5ca8">13</text><text class="doy" x="25.6" y="425.87">348-018</text><text class="st" x="25.6" y="431.77">Ste Lucie<tspan class="mn" dx="1.6" fill="#111" font-size="4.2">●</tspan></text>
<text class="wd" transform="translate(6 446.15) scale(.84 1)">V</text><text class="dn" transform="translate(17.9 446.15) scale(0.93 1)" x="-6.41 -0.71" fill="#0a5ca8" stroke="#0a5ca8">14</text><text class="doy" x="25.6" y="440.15">349-017</text><text class="st" x="25.6" y="446.05">Ste Odile</text>
<text class="wd" transform="translate(6 460.43) scale(.84 1)">S</text><text class="dn" transform="translate(17.9 460.43) scale(0.93 1)" x="-6.28 -0.58" fill="#0a5ca8" stroke="#0a5ca8">15</text><text class="doy" x="25.6" y="454.43">350-016</text><text class="st" x="25.6" y="460.33">Ste Ninon</text>
<text class="wd" transform="translate(6 474.71) scale(.84 1)">D</text><text class="dn" transform="translate(17.9 474.71) scale(0.93 1)" x="-6.23 -0.53" fill="#e2001a" stroke="#e2001a">16</text><text class="doy" x="25.6" y="468.71">351-015</text><text class="st" x="25.6" y="474.61">Ste Alice</text>
<text class="wd" transform="translate(6 488.99) scale(.84 1)">L</text><text class="dn" transform="translate(17.9 488.99) scale(0.93 1)" x="-6.19 -0.49" fill="#0a5ca8" stroke="#0a5ca8">17</text><text class="doy" x="25.6" y="482.99">352-014</text><text class="st" x="25.6" y="488.89">S. Gaël</text>
<text class="wd" transform="translate(6 503.27) scale(.84 1)">M</text><text class="dn" transform="translate(17.9 503.27) scale(0.93 1)" x="-6.26 -0.56" fill="#0a5ca8" stroke="#0a5ca8">18</text><text class="doy" x="25.6" y="497.27">353-013</text><text class="st" x="25.6" y="503.17">S. Gatien</text>
<text class="wd" transform="translate(6 517.55) scale(.84 1)">M</text><text class="dn" transform="translate(17.9 517.55) scale(0.93 1)" x="-6.23 -0.53" fill="#0a5ca8" stroke="#0a5ca8">19</text><text class="doy" x="25.6" y="511.55">354-012</text><text class="st" x="25.6" y="517.45">S. Urbain</text>
<text class="wk" x="61.20 69.56" y="526.73" fill="#0a5ca8" stroke="#0a5ca8">51</text>
<text class="wd" transform="translate(6 531.83) scale(.84 1)">J</text><text class="dn" transform="translate(17.9 531.83) scale(0.93 1)" x="-6.04 -0.34" fill="#0a5ca8" stroke="#0a5ca8">20</text><text class="doy" x="25.6" y="525.83">355-011</text><text class="st" x="25.6" y="531.73">S. Théophile<tspan class="mn" dx="1.6" fill="#8a8a8a" font-size="4.4">☽</tspan></text>
<text class="wd" transform="translate(6 546.11) scale(.84 1)">V</text><text class="dn" transform="translate(17.9 546.11) scale(0.93 1)" x="-6.12 -0.41" fill="#0a5ca8" stroke="#0a5ca8">21</text><text class="doy" x="25.6" y="540.11">356-010</text><text class="st" x="25.6" y="546.01">HIVER</text>
<text class="wd" transform="translate(6 560.39) scale(.84 1)">S</text><text class="dn" transform="translate(17.9 560.39) scale(0.93 1)" x="-6.05 -0.34" fill="#0a5ca8" stroke="#0a5ca8">22</text><text class="doy" x="25.6" y="554.39">357-009</text><text class="st" x="25.6" y="560.29">Ste Fr.-Xavière</text>
<text class="wd" transform="translate(6 574.67) scale(.84 1)">D</text><text class="dn" transform="translate(17.9 574.67) scale(0.93 1)" x="-6.07 -0.37" fill="#e2001a" stroke="#e2001a">23</text><text class="doy" x="25.6" y="568.67">358-008</text><text class="st" x="25.6" y="574.57">S. Armand</text>
<text class="wd" transform="translate(6 588.95) scale(.84 1)">L</text><text class="dn" transform="translate(17.9 588.95) scale(0.93 1)" x="-6.25 -0.54" fill="#0a5ca8" stroke="#0a5ca8">24</text><text class="doy" x="25.6" y="582.95">359-007</text><text class="st" x="25.6" y="588.85">Ste Adèle</text>
<text class="wd" transform="translate(6 603.23) scale(.84 1)">M</text><text class="dn" transform="translate(17.9 603.23) scale(0.93 1)" x="-6.12 -0.41" fill="#e2001a" stroke="#e2001a">25</text><text class="doy" x="25.6" y="597.23">360-006</text><text class="bg" x="25.5" y="603.33">NOËL</text>
<text class="wd" transform="translate(6 617.51) scale(.84 1)">M</text><text class="dn" transform="translate(17.9 617.51) scale(0.93 1)" x="-6.07 -0.37" fill="#0a5ca8" stroke="#0a5ca8">26</text><text class="doy" x="25.6" y="611.51">361-005</text><text class="st" x="25.6" y="617.41">S. Etienne</text>
<text class="wk" x="60.20 69.27" y="626.69" fill="#0a5ca8" stroke="#0a5ca8">52</text>
<text class="wd" transform="translate(6 631.79) scale(.84 1)">J</text><text class="dn" transform="translate(17.9 631.79) scale(0.93 1)" x="-6.02 -0.32" fill="#0a5ca8" stroke="#0a5ca8">27</text><text class="doy" x="25.6" y="625.79">362-004</text><text class="st" x="25.6" y="631.69">S. Jean l'Evang.</text>
<text class="wd" transform="translate(6 646.07) scale(.84 1)">V</text><text class="dn" transform="translate(17.9 646.07) scale(0.93 1)" x="-6.10 -0.40" fill="#0a5ca8" stroke="#0a5ca8">28</text><text class="doy" x="25.6" y="640.07">363-003</text><text class="st" x="25.6" y="645.97">SS. Innocents<tspan class="mn" dx="1.6" fill="#8a8a8a" font-size="4.2">○</tspan></text>
<text class="wd" transform="translate(6 660.35) scale(.84 1)">S</text><text class="dn" transform="translate(17.9 660.35) scale(0.93 1)" x="-6.06 -0.36" fill="#0a5ca8" stroke="#0a5ca8">29</text><text class="doy" x="25.6" y="654.35">364-002</text><text class="st" x="25.6" y="660.25">S. David</text>
<text class="wd" transform="translate(6 674.63) scale(.84 1)">D</text><text class="dn" transform="translate(17.9 674.63) scale(0.93 1)" x="-5.97 -0.27" fill="#e2001a" stroke="#e2001a">30</text><text class="doy" x="25.6" y="668.63">365-001</text><text class="st" x="25.6" y="674.53">S. Roger</text>
<text class="wd" transform="translate(6 688.91) scale(.84 1)">L</text><text class="dn" transform="translate(17.9 688.91) scale(0.93 1)" x="-6.05 -0.35" fill="#0a5ca8" stroke="#0a5ca8">31</text><text class="doy" x="25.6" y="682.91">366-000</text><text class="st" x="25.6" y="688.81">S. Sylvestre</text>
<rect x="-4.9" y="556.03" width="1.6" height="135.66" fill="#1e9ee0"/>
<rect x="-3.25" y="556.03" width="1.6" height="135.66" fill="#e2001a"/>
<rect x="-1.6" y="556.03" width="1.6" height="135.66" fill="#1a9a4c"/>
<ellipse cx="32" cy="742.2" rx="4.6" ry="3.3" fill="none" stroke="#444" stroke-width=".5"/><text x="2.6" y="742.7" style="font-size:2.9px;font-weight:bold;fill:#111" textLength="25.6" lengthAdjust="spacingAndGlyphs">Création Calendriers</text><text x="25" y="745.6" style="font-size:2.6px;font-weight:bold;font-style:italic;fill:#111">du Pole</text><text x="36.8" y="742.7" style="font-size:2.9px;font-weight:bold;fill:#111" textLength="41" lengthAdjust="spacingAndGlyphs">Reproduction interdite - Réf. 2012</text>
</g>
</svg>
</body>
</html>
